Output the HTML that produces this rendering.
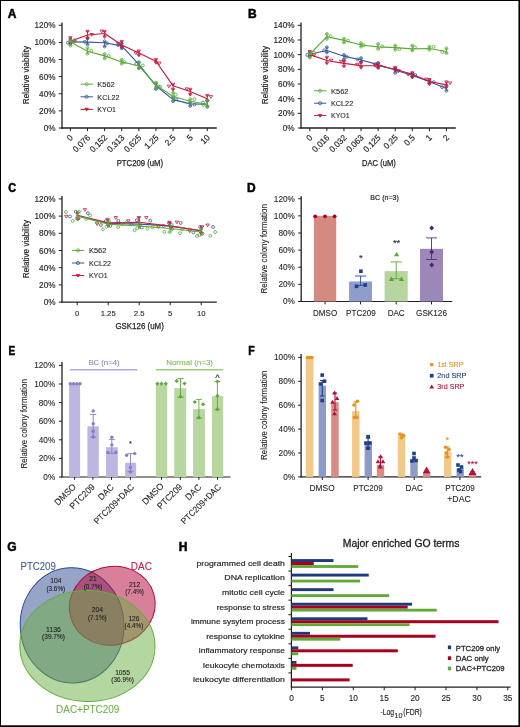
<!DOCTYPE html><html><head><meta charset="utf-8"><style>
html,body{margin:0;padding:0;background:#fff;}
svg{display:block;will-change:transform;}
text{font-family:"Liberation Sans",sans-serif;}
</style></head><body>
<svg width="520" height="727" viewBox="0 0 520 727">
<rect x="0" y="0" width="520" height="727" fill="#fff"/>
<line x1="62.00" y1="22.48" x2="62.00" y2="128.70" stroke="#231f20" stroke-width="1.3" /><line x1="58.80" y1="128.00" x2="62.00" y2="128.00" stroke="#231f20" stroke-width="1.0" /><text x="55.50" y="131.00" font-size="8.2" text-anchor="end" fill="#231f20" font-weight="normal"  stroke="#231f20" stroke-width="0.15">0%</text><line x1="58.80" y1="110.88" x2="62.00" y2="110.88" stroke="#231f20" stroke-width="1.0" /><text x="55.50" y="113.88" font-size="8.2" text-anchor="end" fill="#231f20" font-weight="normal"  stroke="#231f20" stroke-width="0.15">20%</text><line x1="58.80" y1="93.76" x2="62.00" y2="93.76" stroke="#231f20" stroke-width="1.0" /><text x="55.50" y="96.76" font-size="8.2" text-anchor="end" fill="#231f20" font-weight="normal"  stroke="#231f20" stroke-width="0.15">40%</text><line x1="58.80" y1="76.64" x2="62.00" y2="76.64" stroke="#231f20" stroke-width="1.0" /><text x="55.50" y="79.64" font-size="8.2" text-anchor="end" fill="#231f20" font-weight="normal"  stroke="#231f20" stroke-width="0.15">60%</text><line x1="58.80" y1="59.52" x2="62.00" y2="59.52" stroke="#231f20" stroke-width="1.0" /><text x="55.50" y="62.52" font-size="8.2" text-anchor="end" fill="#231f20" font-weight="normal"  stroke="#231f20" stroke-width="0.15">80%</text><line x1="58.80" y1="42.40" x2="62.00" y2="42.40" stroke="#231f20" stroke-width="1.0" /><text x="55.50" y="45.40" font-size="8.2" text-anchor="end" fill="#231f20" font-weight="normal"  stroke="#231f20" stroke-width="0.15">100%</text><line x1="58.80" y1="25.28" x2="62.00" y2="25.28" stroke="#231f20" stroke-width="1.0" /><text x="55.50" y="28.28" font-size="8.2" text-anchor="end" fill="#231f20" font-weight="normal"  stroke="#231f20" stroke-width="0.15">120%</text><text transform="translate(28.80,75.00) rotate(-90)" font-size="8.8" text-anchor="middle" fill="#231f20" font-weight="normal" textLength="58.30" lengthAdjust="spacingAndGlyphs"  stroke="#231f20" stroke-width="0.2">Relative viability</text><line x1="61.40" y1="128.00" x2="216.80" y2="128.00" stroke="#231f20" stroke-width="1.3" /><line x1="70.40" y1="128.00" x2="70.40" y2="131.20" stroke="#231f20" stroke-width="1.0" /><line x1="87.51" y1="128.00" x2="87.51" y2="131.20" stroke="#231f20" stroke-width="1.0" /><line x1="104.62" y1="128.00" x2="104.62" y2="131.20" stroke="#231f20" stroke-width="1.0" /><line x1="121.73" y1="128.00" x2="121.73" y2="131.20" stroke="#231f20" stroke-width="1.0" /><line x1="138.84" y1="128.00" x2="138.84" y2="131.20" stroke="#231f20" stroke-width="1.0" /><line x1="155.95" y1="128.00" x2="155.95" y2="131.20" stroke="#231f20" stroke-width="1.0" /><line x1="173.06" y1="128.00" x2="173.06" y2="131.20" stroke="#231f20" stroke-width="1.0" /><line x1="190.17" y1="128.00" x2="190.17" y2="131.20" stroke="#231f20" stroke-width="1.0" /><line x1="207.28" y1="128.00" x2="207.28" y2="131.20" stroke="#231f20" stroke-width="1.0" /><text transform="translate(73.60,138.20) rotate(-45)" font-size="8.6" text-anchor="end" fill="#231f20" font-weight="normal" textLength="4.57" lengthAdjust="spacingAndGlyphs"  stroke="#231f20" stroke-width="0.18">0</text><text transform="translate(90.71,138.20) rotate(-45)" font-size="8.6" text-anchor="end" fill="#231f20" font-weight="normal" textLength="20.56" lengthAdjust="spacingAndGlyphs"  stroke="#231f20" stroke-width="0.18">0.076</text><text transform="translate(107.82,138.20) rotate(-45)" font-size="8.6" text-anchor="end" fill="#231f20" font-weight="normal" textLength="20.56" lengthAdjust="spacingAndGlyphs"  stroke="#231f20" stroke-width="0.18">0.152</text><text transform="translate(124.93,138.20) rotate(-45)" font-size="8.6" text-anchor="end" fill="#231f20" font-weight="normal" textLength="20.56" lengthAdjust="spacingAndGlyphs"  stroke="#231f20" stroke-width="0.18">0.313</text><text transform="translate(142.04,138.20) rotate(-45)" font-size="8.6" text-anchor="end" fill="#231f20" font-weight="normal" textLength="20.56" lengthAdjust="spacingAndGlyphs"  stroke="#231f20" stroke-width="0.18">0.625</text><text transform="translate(159.15,138.20) rotate(-45)" font-size="8.6" text-anchor="end" fill="#231f20" font-weight="normal" textLength="15.99" lengthAdjust="spacingAndGlyphs"  stroke="#231f20" stroke-width="0.18">1.25</text><text transform="translate(176.26,138.20) rotate(-45)" font-size="8.6" text-anchor="end" fill="#231f20" font-weight="normal" textLength="11.42" lengthAdjust="spacingAndGlyphs"  stroke="#231f20" stroke-width="0.18">2.5</text><text transform="translate(193.37,138.20) rotate(-45)" font-size="8.6" text-anchor="end" fill="#231f20" font-weight="normal" textLength="4.57" lengthAdjust="spacingAndGlyphs"  stroke="#231f20" stroke-width="0.18">5</text><text transform="translate(210.48,138.20) rotate(-45)" font-size="8.6" text-anchor="end" fill="#231f20" font-weight="normal" textLength="9.14" lengthAdjust="spacingAndGlyphs"  stroke="#231f20" stroke-width="0.18">10</text><polyline points="70.40,41.89 87.51,42.14 104.62,42.74 121.73,45.82 138.84,64.40 155.95,85.80 173.06,99.58 190.17,103.86 207.28,104.20" fill="none" stroke="#35599c" stroke-width="1.15" stroke-linejoin="round"/><line x1="70.40" y1="39.48" x2="70.40" y2="43.68" stroke="#35599c" stroke-width="0.9" /><line x1="69.20" y1="39.48" x2="71.60" y2="39.48" stroke="#35599c" stroke-width="0.9" /><line x1="69.20" y1="43.68" x2="71.60" y2="43.68" stroke="#35599c" stroke-width="0.9" /><circle cx="70.40" cy="39.48" r="1.45" fill="none" stroke="#35599c" stroke-width="0.8"/><circle cx="70.40" cy="43.68" r="1.45" fill="none" stroke="#35599c" stroke-width="0.8"/><circle cx="67.88" cy="42.69" r="1.45" fill="none" stroke="#35599c" stroke-width="0.8"/><line x1="87.51" y1="38.37" x2="87.51" y2="44.39" stroke="#35599c" stroke-width="0.9" /><line x1="86.31" y1="38.37" x2="88.71" y2="38.37" stroke="#35599c" stroke-width="0.9" /><line x1="86.31" y1="44.39" x2="88.71" y2="44.39" stroke="#35599c" stroke-width="0.9" /><circle cx="87.51" cy="38.37" r="1.45" fill="none" stroke="#35599c" stroke-width="0.8"/><circle cx="87.51" cy="44.39" r="1.45" fill="none" stroke="#35599c" stroke-width="0.8"/><circle cx="84.85" cy="41.82" r="1.45" fill="none" stroke="#35599c" stroke-width="0.8"/><line x1="104.62" y1="41.35" x2="104.62" y2="46.46" stroke="#35599c" stroke-width="0.9" /><line x1="103.42" y1="41.35" x2="105.82" y2="41.35" stroke="#35599c" stroke-width="0.9" /><line x1="103.42" y1="46.46" x2="105.82" y2="46.46" stroke="#35599c" stroke-width="0.9" /><circle cx="104.62" cy="41.35" r="1.45" fill="none" stroke="#35599c" stroke-width="0.8"/><circle cx="104.62" cy="46.46" r="1.45" fill="none" stroke="#35599c" stroke-width="0.8"/><circle cx="107.14" cy="43.47" r="1.45" fill="none" stroke="#35599c" stroke-width="0.8"/><line x1="121.73" y1="43.62" x2="121.73" y2="48.32" stroke="#35599c" stroke-width="0.9" /><line x1="120.53" y1="43.62" x2="122.93" y2="43.62" stroke="#35599c" stroke-width="0.9" /><line x1="120.53" y1="48.32" x2="122.93" y2="48.32" stroke="#35599c" stroke-width="0.9" /><circle cx="121.73" cy="43.62" r="1.45" fill="none" stroke="#35599c" stroke-width="0.8"/><circle cx="121.73" cy="48.32" r="1.45" fill="none" stroke="#35599c" stroke-width="0.8"/><circle cx="118.07" cy="45.02" r="1.45" fill="none" stroke="#35599c" stroke-width="0.8"/><line x1="138.84" y1="62.32" x2="138.84" y2="67.99" stroke="#35599c" stroke-width="0.9" /><line x1="137.64" y1="62.32" x2="140.04" y2="62.32" stroke="#35599c" stroke-width="0.9" /><line x1="137.64" y1="67.99" x2="140.04" y2="67.99" stroke="#35599c" stroke-width="0.9" /><circle cx="138.84" cy="62.32" r="1.45" fill="none" stroke="#35599c" stroke-width="0.8"/><circle cx="138.84" cy="67.99" r="1.45" fill="none" stroke="#35599c" stroke-width="0.8"/><circle cx="136.32" cy="63.83" r="1.45" fill="none" stroke="#35599c" stroke-width="0.8"/><line x1="155.95" y1="83.58" x2="155.95" y2="89.00" stroke="#35599c" stroke-width="0.9" /><line x1="154.75" y1="83.58" x2="157.15" y2="83.58" stroke="#35599c" stroke-width="0.9" /><line x1="154.75" y1="89.00" x2="157.15" y2="89.00" stroke="#35599c" stroke-width="0.9" /><circle cx="155.95" cy="83.58" r="1.45" fill="none" stroke="#35599c" stroke-width="0.8"/><circle cx="155.95" cy="89.00" r="1.45" fill="none" stroke="#35599c" stroke-width="0.8"/><circle cx="158.50" cy="86.55" r="1.45" fill="none" stroke="#35599c" stroke-width="0.8"/><line x1="173.06" y1="97.23" x2="173.06" y2="101.15" stroke="#35599c" stroke-width="0.9" /><line x1="171.86" y1="97.23" x2="174.26" y2="97.23" stroke="#35599c" stroke-width="0.9" /><line x1="171.86" y1="101.15" x2="174.26" y2="101.15" stroke="#35599c" stroke-width="0.9" /><circle cx="173.06" cy="97.23" r="1.45" fill="none" stroke="#35599c" stroke-width="0.8"/><circle cx="173.06" cy="101.15" r="1.45" fill="none" stroke="#35599c" stroke-width="0.8"/><circle cx="175.98" cy="99.09" r="1.45" fill="none" stroke="#35599c" stroke-width="0.8"/><line x1="190.17" y1="102.42" x2="190.17" y2="105.93" stroke="#35599c" stroke-width="0.9" /><line x1="188.97" y1="102.42" x2="191.37" y2="102.42" stroke="#35599c" stroke-width="0.9" /><line x1="188.97" y1="105.93" x2="191.37" y2="105.93" stroke="#35599c" stroke-width="0.9" /><circle cx="190.17" cy="102.42" r="1.45" fill="none" stroke="#35599c" stroke-width="0.8"/><circle cx="190.17" cy="105.93" r="1.45" fill="none" stroke="#35599c" stroke-width="0.8"/><circle cx="194.52" cy="104.58" r="1.45" fill="none" stroke="#35599c" stroke-width="0.8"/><line x1="207.28" y1="100.37" x2="207.28" y2="106.78" stroke="#35599c" stroke-width="0.9" /><line x1="206.08" y1="100.37" x2="208.48" y2="100.37" stroke="#35599c" stroke-width="0.9" /><line x1="206.08" y1="106.78" x2="208.48" y2="106.78" stroke="#35599c" stroke-width="0.9" /><circle cx="207.28" cy="100.37" r="1.45" fill="none" stroke="#35599c" stroke-width="0.8"/><circle cx="207.28" cy="106.78" r="1.45" fill="none" stroke="#35599c" stroke-width="0.8"/><circle cx="202.95" cy="102.59" r="1.45" fill="none" stroke="#35599c" stroke-width="0.8"/><polyline points="70.40,41.20 87.51,35.04 104.62,33.50 121.73,44.97 138.84,53.10 155.95,61.23 173.06,85.80 190.17,91.53 207.28,98.81" fill="none" stroke="#c8173f" stroke-width="1.15" stroke-linejoin="round"/><line x1="70.40" y1="37.90" x2="70.40" y2="43.78" stroke="#c8173f" stroke-width="0.9" /><line x1="69.20" y1="37.90" x2="71.60" y2="37.90" stroke="#c8173f" stroke-width="0.9" /><line x1="69.20" y1="43.78" x2="71.60" y2="43.78" stroke="#c8173f" stroke-width="0.9" /><path d="M68.70,36.71L72.10,36.71L70.40,39.43Z" fill="none" stroke="#c8173f" stroke-width="0.8"/><path d="M68.70,42.59L72.10,42.59L70.40,45.31Z" fill="none" stroke="#c8173f" stroke-width="0.8"/><path d="M72.87,40.42L76.27,40.42L74.57,43.14Z" fill="none" stroke="#c8173f" stroke-width="0.8"/><line x1="87.51" y1="31.51" x2="87.51" y2="38.23" stroke="#c8173f" stroke-width="0.9" /><line x1="86.31" y1="31.51" x2="88.71" y2="31.51" stroke="#c8173f" stroke-width="0.9" /><line x1="86.31" y1="38.23" x2="88.71" y2="38.23" stroke="#c8173f" stroke-width="0.9" /><path d="M85.81,30.32L89.21,30.32L87.51,33.04Z" fill="none" stroke="#c8173f" stroke-width="0.8"/><path d="M85.81,37.04L89.21,37.04L87.51,39.76Z" fill="none" stroke="#c8173f" stroke-width="0.8"/><path d="M90.03,33.52L93.43,33.52L91.73,36.24Z" fill="none" stroke="#c8173f" stroke-width="0.8"/><line x1="104.62" y1="31.50" x2="104.62" y2="36.92" stroke="#c8173f" stroke-width="0.9" /><line x1="103.42" y1="31.50" x2="105.82" y2="31.50" stroke="#c8173f" stroke-width="0.9" /><line x1="103.42" y1="36.92" x2="105.82" y2="36.92" stroke="#c8173f" stroke-width="0.9" /><path d="M102.92,30.31L106.32,30.31L104.62,33.03Z" fill="none" stroke="#c8173f" stroke-width="0.8"/><path d="M102.92,35.73L106.32,35.73L104.62,38.45Z" fill="none" stroke="#c8173f" stroke-width="0.8"/><path d="M100.05,30.08L103.45,30.08L101.75,32.80Z" fill="none" stroke="#c8173f" stroke-width="0.8"/><line x1="121.73" y1="41.60" x2="121.73" y2="47.35" stroke="#c8173f" stroke-width="0.9" /><line x1="120.53" y1="41.60" x2="122.93" y2="41.60" stroke="#c8173f" stroke-width="0.9" /><line x1="120.53" y1="47.35" x2="122.93" y2="47.35" stroke="#c8173f" stroke-width="0.9" /><path d="M120.03,40.41L123.43,40.41L121.73,43.13Z" fill="none" stroke="#c8173f" stroke-width="0.8"/><path d="M120.03,46.16L123.43,46.16L121.73,48.88Z" fill="none" stroke="#c8173f" stroke-width="0.8"/><path d="M116.43,42.42L119.83,42.42L118.13,45.14Z" fill="none" stroke="#c8173f" stroke-width="0.8"/><line x1="138.84" y1="51.16" x2="138.84" y2="55.38" stroke="#c8173f" stroke-width="0.9" /><line x1="137.64" y1="51.16" x2="140.04" y2="51.16" stroke="#c8173f" stroke-width="0.9" /><line x1="137.64" y1="55.38" x2="140.04" y2="55.38" stroke="#c8173f" stroke-width="0.9" /><path d="M137.14,49.97L140.54,49.97L138.84,52.69Z" fill="none" stroke="#c8173f" stroke-width="0.8"/><path d="M137.14,54.19L140.54,54.19L138.84,56.91Z" fill="none" stroke="#c8173f" stroke-width="0.8"/><path d="M134.17,51.89L137.57,51.89L135.87,54.61Z" fill="none" stroke="#c8173f" stroke-width="0.8"/><line x1="155.95" y1="59.63" x2="155.95" y2="62.74" stroke="#c8173f" stroke-width="0.9" /><line x1="154.75" y1="59.63" x2="157.15" y2="59.63" stroke="#c8173f" stroke-width="0.9" /><line x1="154.75" y1="62.74" x2="157.15" y2="62.74" stroke="#c8173f" stroke-width="0.9" /><path d="M154.25,58.44L157.65,58.44L155.95,61.16Z" fill="none" stroke="#c8173f" stroke-width="0.8"/><path d="M154.25,61.55L157.65,61.55L155.95,64.27Z" fill="none" stroke="#c8173f" stroke-width="0.8"/><path d="M157.72,62.04L161.12,62.04L159.42,64.76Z" fill="none" stroke="#c8173f" stroke-width="0.8"/><line x1="173.06" y1="84.41" x2="173.06" y2="89.50" stroke="#c8173f" stroke-width="0.9" /><line x1="171.86" y1="84.41" x2="174.26" y2="84.41" stroke="#c8173f" stroke-width="0.9" /><line x1="171.86" y1="89.50" x2="174.26" y2="89.50" stroke="#c8173f" stroke-width="0.9" /><path d="M171.36,83.22L174.76,83.22L173.06,85.94Z" fill="none" stroke="#c8173f" stroke-width="0.8"/><path d="M171.36,88.31L174.76,88.31L173.06,91.03Z" fill="none" stroke="#c8173f" stroke-width="0.8"/><path d="M167.21,85.11L170.61,85.11L168.91,87.83Z" fill="none" stroke="#c8173f" stroke-width="0.8"/><line x1="190.17" y1="89.53" x2="190.17" y2="94.63" stroke="#c8173f" stroke-width="0.9" /><line x1="188.97" y1="89.53" x2="191.37" y2="89.53" stroke="#c8173f" stroke-width="0.9" /><line x1="188.97" y1="94.63" x2="191.37" y2="94.63" stroke="#c8173f" stroke-width="0.9" /><path d="M188.47,88.34L191.87,88.34L190.17,91.06Z" fill="none" stroke="#c8173f" stroke-width="0.8"/><path d="M188.47,93.44L191.87,93.44L190.17,96.16Z" fill="none" stroke="#c8173f" stroke-width="0.8"/><path d="M185.06,87.83L188.46,87.83L186.76,90.55Z" fill="none" stroke="#c8173f" stroke-width="0.8"/><line x1="207.28" y1="95.59" x2="207.28" y2="101.54" stroke="#c8173f" stroke-width="0.9" /><line x1="206.08" y1="95.59" x2="208.48" y2="95.59" stroke="#c8173f" stroke-width="0.9" /><line x1="206.08" y1="101.54" x2="208.48" y2="101.54" stroke="#c8173f" stroke-width="0.9" /><path d="M205.58,94.40L208.98,94.40L207.28,97.12Z" fill="none" stroke="#c8173f" stroke-width="0.8"/><path d="M205.58,100.35L208.98,100.35L207.28,103.07Z" fill="none" stroke="#c8173f" stroke-width="0.8"/><path d="M209.24,95.59L212.64,95.59L210.94,98.31Z" fill="none" stroke="#c8173f" stroke-width="0.8"/><polyline points="70.40,41.89 87.51,51.22 104.62,55.84 121.73,61.92 138.84,65.94 155.95,85.03 173.06,96.50 190.17,101.21 207.28,104.20" fill="none" stroke="#5bad37" stroke-width="1.15" stroke-linejoin="round"/><line x1="70.40" y1="40.56" x2="70.40" y2="45.72" stroke="#5bad37" stroke-width="0.9" /><line x1="69.20" y1="40.56" x2="71.60" y2="40.56" stroke="#5bad37" stroke-width="0.9" /><line x1="69.20" y1="45.72" x2="71.60" y2="45.72" stroke="#5bad37" stroke-width="0.9" /><circle cx="70.40" cy="40.56" r="1.45" fill="none" stroke="#5bad37" stroke-width="0.8"/><circle cx="70.40" cy="45.72" r="1.45" fill="none" stroke="#5bad37" stroke-width="0.8"/><circle cx="74.74" cy="40.10" r="1.45" fill="none" stroke="#5bad37" stroke-width="0.8"/><line x1="87.51" y1="48.04" x2="87.51" y2="53.66" stroke="#5bad37" stroke-width="0.9" /><line x1="86.31" y1="48.04" x2="88.71" y2="48.04" stroke="#5bad37" stroke-width="0.9" /><line x1="86.31" y1="53.66" x2="88.71" y2="53.66" stroke="#5bad37" stroke-width="0.9" /><circle cx="87.51" cy="48.04" r="1.45" fill="none" stroke="#5bad37" stroke-width="0.8"/><circle cx="87.51" cy="53.66" r="1.45" fill="none" stroke="#5bad37" stroke-width="0.8"/><circle cx="91.24" cy="50.77" r="1.45" fill="none" stroke="#5bad37" stroke-width="0.8"/><line x1="104.62" y1="53.99" x2="104.62" y2="58.35" stroke="#5bad37" stroke-width="0.9" /><line x1="103.42" y1="53.99" x2="105.82" y2="53.99" stroke="#5bad37" stroke-width="0.9" /><line x1="103.42" y1="58.35" x2="105.82" y2="58.35" stroke="#5bad37" stroke-width="0.9" /><circle cx="104.62" cy="53.99" r="1.45" fill="none" stroke="#5bad37" stroke-width="0.8"/><circle cx="104.62" cy="58.35" r="1.45" fill="none" stroke="#5bad37" stroke-width="0.8"/><circle cx="108.70" cy="56.02" r="1.45" fill="none" stroke="#5bad37" stroke-width="0.8"/><line x1="121.73" y1="59.75" x2="121.73" y2="63.70" stroke="#5bad37" stroke-width="0.9" /><line x1="120.53" y1="59.75" x2="122.93" y2="59.75" stroke="#5bad37" stroke-width="0.9" /><line x1="120.53" y1="63.70" x2="122.93" y2="63.70" stroke="#5bad37" stroke-width="0.9" /><circle cx="121.73" cy="59.75" r="1.45" fill="none" stroke="#5bad37" stroke-width="0.8"/><circle cx="121.73" cy="63.70" r="1.45" fill="none" stroke="#5bad37" stroke-width="0.8"/><circle cx="124.49" cy="62.12" r="1.45" fill="none" stroke="#5bad37" stroke-width="0.8"/><line x1="138.84" y1="62.54" x2="138.84" y2="68.13" stroke="#5bad37" stroke-width="0.9" /><line x1="137.64" y1="62.54" x2="140.04" y2="62.54" stroke="#5bad37" stroke-width="0.9" /><line x1="137.64" y1="68.13" x2="140.04" y2="68.13" stroke="#5bad37" stroke-width="0.9" /><circle cx="138.84" cy="62.54" r="1.45" fill="none" stroke="#5bad37" stroke-width="0.8"/><circle cx="138.84" cy="68.13" r="1.45" fill="none" stroke="#5bad37" stroke-width="0.8"/><circle cx="142.85" cy="65.42" r="1.45" fill="none" stroke="#5bad37" stroke-width="0.8"/><line x1="155.95" y1="82.58" x2="155.95" y2="87.44" stroke="#5bad37" stroke-width="0.9" /><line x1="154.75" y1="82.58" x2="157.15" y2="82.58" stroke="#5bad37" stroke-width="0.9" /><line x1="154.75" y1="87.44" x2="157.15" y2="87.44" stroke="#5bad37" stroke-width="0.9" /><circle cx="155.95" cy="82.58" r="1.45" fill="none" stroke="#5bad37" stroke-width="0.8"/><circle cx="155.95" cy="87.44" r="1.45" fill="none" stroke="#5bad37" stroke-width="0.8"/><circle cx="160.08" cy="86.67" r="1.45" fill="none" stroke="#5bad37" stroke-width="0.8"/><line x1="173.06" y1="92.66" x2="173.06" y2="98.45" stroke="#5bad37" stroke-width="0.9" /><line x1="171.86" y1="92.66" x2="174.26" y2="92.66" stroke="#5bad37" stroke-width="0.9" /><line x1="171.86" y1="98.45" x2="174.26" y2="98.45" stroke="#5bad37" stroke-width="0.9" /><circle cx="173.06" cy="92.66" r="1.45" fill="none" stroke="#5bad37" stroke-width="0.8"/><circle cx="173.06" cy="98.45" r="1.45" fill="none" stroke="#5bad37" stroke-width="0.8"/><circle cx="175.68" cy="94.60" r="1.45" fill="none" stroke="#5bad37" stroke-width="0.8"/><line x1="190.17" y1="99.20" x2="190.17" y2="102.71" stroke="#5bad37" stroke-width="0.9" /><line x1="188.97" y1="99.20" x2="191.37" y2="99.20" stroke="#5bad37" stroke-width="0.9" /><line x1="188.97" y1="102.71" x2="191.37" y2="102.71" stroke="#5bad37" stroke-width="0.9" /><circle cx="190.17" cy="99.20" r="1.45" fill="none" stroke="#5bad37" stroke-width="0.8"/><circle cx="190.17" cy="102.71" r="1.45" fill="none" stroke="#5bad37" stroke-width="0.8"/><circle cx="194.39" cy="99.12" r="1.45" fill="none" stroke="#5bad37" stroke-width="0.8"/><line x1="207.28" y1="100.53" x2="207.28" y2="106.07" stroke="#5bad37" stroke-width="0.9" /><line x1="206.08" y1="100.53" x2="208.48" y2="100.53" stroke="#5bad37" stroke-width="0.9" /><line x1="206.08" y1="106.07" x2="208.48" y2="106.07" stroke="#5bad37" stroke-width="0.9" /><circle cx="207.28" cy="100.53" r="1.45" fill="none" stroke="#5bad37" stroke-width="0.8"/><circle cx="207.28" cy="106.07" r="1.45" fill="none" stroke="#5bad37" stroke-width="0.8"/><circle cx="203.18" cy="104.89" r="1.45" fill="none" stroke="#5bad37" stroke-width="0.8"/><line x1="80.50" y1="84.20" x2="92.90" y2="84.20" stroke="#5bad37" stroke-width="1.0" /><circle cx="86.60" cy="84.20" r="1.6" fill="none" stroke="#5bad37" stroke-width="0.8"/><text x="97.30" y="87.00" font-size="7.9" text-anchor="start" fill="#231f20" font-weight="normal" textLength="17.50" lengthAdjust="spacingAndGlyphs"  stroke="#231f20" stroke-width="0.1">K562</text><line x1="80.50" y1="96.80" x2="92.90" y2="96.80" stroke="#35599c" stroke-width="1.0" /><circle cx="86.60" cy="96.80" r="1.6" fill="none" stroke="#35599c" stroke-width="0.8"/><text x="97.30" y="99.60" font-size="7.9" text-anchor="start" fill="#231f20" font-weight="normal" textLength="22.20" lengthAdjust="spacingAndGlyphs"  stroke="#231f20" stroke-width="0.1">KCL22</text><line x1="80.50" y1="109.40" x2="92.90" y2="109.40" stroke="#c8173f" stroke-width="1.0" /><path d="M84.90,108.21L88.30,108.21L86.60,110.93Z" fill="#c8173f" stroke="#c8173f" stroke-width="0.8"/><text x="97.30" y="112.20" font-size="7.9" text-anchor="start" fill="#231f20" font-weight="normal" textLength="18.70" lengthAdjust="spacingAndGlyphs"  stroke="#231f20" stroke-width="0.1">KYO1</text><text x="139.90" y="165.60" font-size="8.4" text-anchor="middle" fill="#231f20" font-weight="normal" textLength="46.40" lengthAdjust="spacingAndGlyphs"  stroke="#231f20" stroke-width="0.25">PTC209 (uM)</text><line x1="301.00" y1="22.50" x2="301.00" y2="128.70" stroke="#231f20" stroke-width="1.3" /><line x1="297.80" y1="128.00" x2="301.00" y2="128.00" stroke="#231f20" stroke-width="1.0" /><text x="294.50" y="131.00" font-size="8.2" text-anchor="end" fill="#231f20" font-weight="normal"  stroke="#231f20" stroke-width="0.15">0%</text><line x1="297.80" y1="113.33" x2="301.00" y2="113.33" stroke="#231f20" stroke-width="1.0" /><text x="294.50" y="116.33" font-size="8.2" text-anchor="end" fill="#231f20" font-weight="normal"  stroke="#231f20" stroke-width="0.15">20%</text><line x1="297.80" y1="98.66" x2="301.00" y2="98.66" stroke="#231f20" stroke-width="1.0" /><text x="294.50" y="101.66" font-size="8.2" text-anchor="end" fill="#231f20" font-weight="normal"  stroke="#231f20" stroke-width="0.15">40%</text><line x1="297.80" y1="83.98" x2="301.00" y2="83.98" stroke="#231f20" stroke-width="1.0" /><text x="294.50" y="86.98" font-size="8.2" text-anchor="end" fill="#231f20" font-weight="normal"  stroke="#231f20" stroke-width="0.15">60%</text><line x1="297.80" y1="69.31" x2="301.00" y2="69.31" stroke="#231f20" stroke-width="1.0" /><text x="294.50" y="72.31" font-size="8.2" text-anchor="end" fill="#231f20" font-weight="normal"  stroke="#231f20" stroke-width="0.15">80%</text><line x1="297.80" y1="54.64" x2="301.00" y2="54.64" stroke="#231f20" stroke-width="1.0" /><text x="294.50" y="57.64" font-size="8.2" text-anchor="end" fill="#231f20" font-weight="normal"  stroke="#231f20" stroke-width="0.15">100%</text><line x1="297.80" y1="39.97" x2="301.00" y2="39.97" stroke="#231f20" stroke-width="1.0" /><text x="294.50" y="42.97" font-size="8.2" text-anchor="end" fill="#231f20" font-weight="normal"  stroke="#231f20" stroke-width="0.15">120%</text><line x1="297.80" y1="25.30" x2="301.00" y2="25.30" stroke="#231f20" stroke-width="1.0" /><text x="294.50" y="28.30" font-size="8.2" text-anchor="end" fill="#231f20" font-weight="normal"  stroke="#231f20" stroke-width="0.15">140%</text><text transform="translate(267.80,75.00) rotate(-90)" font-size="8.8" text-anchor="middle" fill="#231f20" font-weight="normal" textLength="58.30" lengthAdjust="spacingAndGlyphs"  stroke="#231f20" stroke-width="0.2">Relative viability</text><line x1="300.40" y1="128.00" x2="455.80" y2="128.00" stroke="#231f20" stroke-width="1.3" /><line x1="309.80" y1="128.00" x2="309.80" y2="131.20" stroke="#231f20" stroke-width="1.0" /><line x1="326.88" y1="128.00" x2="326.88" y2="131.20" stroke="#231f20" stroke-width="1.0" /><line x1="343.96" y1="128.00" x2="343.96" y2="131.20" stroke="#231f20" stroke-width="1.0" /><line x1="361.04" y1="128.00" x2="361.04" y2="131.20" stroke="#231f20" stroke-width="1.0" /><line x1="378.12" y1="128.00" x2="378.12" y2="131.20" stroke="#231f20" stroke-width="1.0" /><line x1="395.20" y1="128.00" x2="395.20" y2="131.20" stroke="#231f20" stroke-width="1.0" /><line x1="412.28" y1="128.00" x2="412.28" y2="131.20" stroke="#231f20" stroke-width="1.0" /><line x1="429.36" y1="128.00" x2="429.36" y2="131.20" stroke="#231f20" stroke-width="1.0" /><line x1="446.44" y1="128.00" x2="446.44" y2="131.20" stroke="#231f20" stroke-width="1.0" /><text transform="translate(313.00,138.20) rotate(-45)" font-size="8.6" text-anchor="end" fill="#231f20" font-weight="normal" textLength="4.57" lengthAdjust="spacingAndGlyphs"  stroke="#231f20" stroke-width="0.18">0</text><text transform="translate(330.08,138.20) rotate(-45)" font-size="8.6" text-anchor="end" fill="#231f20" font-weight="normal" textLength="20.56" lengthAdjust="spacingAndGlyphs"  stroke="#231f20" stroke-width="0.18">0.016</text><text transform="translate(347.16,138.20) rotate(-45)" font-size="8.6" text-anchor="end" fill="#231f20" font-weight="normal" textLength="20.56" lengthAdjust="spacingAndGlyphs"  stroke="#231f20" stroke-width="0.18">0.032</text><text transform="translate(364.24,138.20) rotate(-45)" font-size="8.6" text-anchor="end" fill="#231f20" font-weight="normal" textLength="20.56" lengthAdjust="spacingAndGlyphs"  stroke="#231f20" stroke-width="0.18">0.063</text><text transform="translate(381.32,138.20) rotate(-45)" font-size="8.6" text-anchor="end" fill="#231f20" font-weight="normal" textLength="20.56" lengthAdjust="spacingAndGlyphs"  stroke="#231f20" stroke-width="0.18">0.125</text><text transform="translate(398.40,138.20) rotate(-45)" font-size="8.6" text-anchor="end" fill="#231f20" font-weight="normal" textLength="15.99" lengthAdjust="spacingAndGlyphs"  stroke="#231f20" stroke-width="0.18">0.25</text><text transform="translate(415.48,138.20) rotate(-45)" font-size="8.6" text-anchor="end" fill="#231f20" font-weight="normal" textLength="11.42" lengthAdjust="spacingAndGlyphs"  stroke="#231f20" stroke-width="0.18">0.5</text><text transform="translate(432.56,138.20) rotate(-45)" font-size="8.6" text-anchor="end" fill="#231f20" font-weight="normal" textLength="4.57" lengthAdjust="spacingAndGlyphs"  stroke="#231f20" stroke-width="0.18">1</text><text transform="translate(449.64,138.20) rotate(-45)" font-size="8.6" text-anchor="end" fill="#231f20" font-weight="normal" textLength="4.57" lengthAdjust="spacingAndGlyphs"  stroke="#231f20" stroke-width="0.18">2</text><polyline points="309.80,54.27 326.88,50.53 343.96,56.18 361.04,60.00 378.12,64.62 395.20,70.05 412.28,75.40 429.36,81.49 446.44,88.53" fill="none" stroke="#35599c" stroke-width="1.15" stroke-linejoin="round"/><line x1="309.80" y1="52.21" x2="309.80" y2="55.81" stroke="#35599c" stroke-width="0.9" /><line x1="308.60" y1="52.21" x2="311.00" y2="52.21" stroke="#35599c" stroke-width="0.9" /><line x1="308.60" y1="55.81" x2="311.00" y2="55.81" stroke="#35599c" stroke-width="0.9" /><circle cx="309.80" cy="52.21" r="1.45" fill="none" stroke="#35599c" stroke-width="0.8"/><circle cx="309.80" cy="55.81" r="1.45" fill="none" stroke="#35599c" stroke-width="0.8"/><circle cx="307.28" cy="54.96" r="1.45" fill="none" stroke="#35599c" stroke-width="0.8"/><line x1="326.88" y1="47.30" x2="326.88" y2="52.46" stroke="#35599c" stroke-width="0.9" /><line x1="325.68" y1="47.30" x2="328.08" y2="47.30" stroke="#35599c" stroke-width="0.9" /><line x1="325.68" y1="52.46" x2="328.08" y2="52.46" stroke="#35599c" stroke-width="0.9" /><circle cx="326.88" cy="47.30" r="1.45" fill="none" stroke="#35599c" stroke-width="0.8"/><circle cx="326.88" cy="52.46" r="1.45" fill="none" stroke="#35599c" stroke-width="0.8"/><circle cx="324.22" cy="50.25" r="1.45" fill="none" stroke="#35599c" stroke-width="0.8"/><line x1="343.96" y1="54.98" x2="343.96" y2="59.37" stroke="#35599c" stroke-width="0.9" /><line x1="342.76" y1="54.98" x2="345.16" y2="54.98" stroke="#35599c" stroke-width="0.9" /><line x1="342.76" y1="59.37" x2="345.16" y2="59.37" stroke="#35599c" stroke-width="0.9" /><circle cx="343.96" cy="54.98" r="1.45" fill="none" stroke="#35599c" stroke-width="0.8"/><circle cx="343.96" cy="59.37" r="1.45" fill="none" stroke="#35599c" stroke-width="0.8"/><circle cx="346.48" cy="56.80" r="1.45" fill="none" stroke="#35599c" stroke-width="0.8"/><line x1="361.04" y1="58.11" x2="361.04" y2="62.13" stroke="#35599c" stroke-width="0.9" /><line x1="359.84" y1="58.11" x2="362.24" y2="58.11" stroke="#35599c" stroke-width="0.9" /><line x1="359.84" y1="62.13" x2="362.24" y2="62.13" stroke="#35599c" stroke-width="0.9" /><circle cx="361.04" cy="58.11" r="1.45" fill="none" stroke="#35599c" stroke-width="0.8"/><circle cx="361.04" cy="62.13" r="1.45" fill="none" stroke="#35599c" stroke-width="0.8"/><circle cx="357.38" cy="59.31" r="1.45" fill="none" stroke="#35599c" stroke-width="0.8"/><line x1="378.12" y1="62.84" x2="378.12" y2="67.70" stroke="#35599c" stroke-width="0.9" /><line x1="376.92" y1="62.84" x2="379.32" y2="62.84" stroke="#35599c" stroke-width="0.9" /><line x1="376.92" y1="67.70" x2="379.32" y2="67.70" stroke="#35599c" stroke-width="0.9" /><circle cx="378.12" cy="62.84" r="1.45" fill="none" stroke="#35599c" stroke-width="0.8"/><circle cx="378.12" cy="67.70" r="1.45" fill="none" stroke="#35599c" stroke-width="0.8"/><circle cx="375.60" cy="64.13" r="1.45" fill="none" stroke="#35599c" stroke-width="0.8"/><line x1="395.20" y1="68.14" x2="395.20" y2="72.79" stroke="#35599c" stroke-width="0.9" /><line x1="394.00" y1="68.14" x2="396.40" y2="68.14" stroke="#35599c" stroke-width="0.9" /><line x1="394.00" y1="72.79" x2="396.40" y2="72.79" stroke="#35599c" stroke-width="0.9" /><circle cx="395.20" cy="68.14" r="1.45" fill="none" stroke="#35599c" stroke-width="0.8"/><circle cx="395.20" cy="72.79" r="1.45" fill="none" stroke="#35599c" stroke-width="0.8"/><circle cx="397.75" cy="70.69" r="1.45" fill="none" stroke="#35599c" stroke-width="0.8"/><line x1="412.28" y1="73.38" x2="412.28" y2="76.75" stroke="#35599c" stroke-width="0.9" /><line x1="411.08" y1="73.38" x2="413.48" y2="73.38" stroke="#35599c" stroke-width="0.9" /><line x1="411.08" y1="76.75" x2="413.48" y2="76.75" stroke="#35599c" stroke-width="0.9" /><circle cx="412.28" cy="73.38" r="1.45" fill="none" stroke="#35599c" stroke-width="0.8"/><circle cx="412.28" cy="76.75" r="1.45" fill="none" stroke="#35599c" stroke-width="0.8"/><circle cx="415.20" cy="74.98" r="1.45" fill="none" stroke="#35599c" stroke-width="0.8"/><line x1="429.36" y1="80.26" x2="429.36" y2="83.26" stroke="#35599c" stroke-width="0.9" /><line x1="428.16" y1="80.26" x2="430.56" y2="80.26" stroke="#35599c" stroke-width="0.9" /><line x1="428.16" y1="83.26" x2="430.56" y2="83.26" stroke="#35599c" stroke-width="0.9" /><circle cx="429.36" cy="80.26" r="1.45" fill="none" stroke="#35599c" stroke-width="0.8"/><circle cx="429.36" cy="83.26" r="1.45" fill="none" stroke="#35599c" stroke-width="0.8"/><circle cx="433.71" cy="82.11" r="1.45" fill="none" stroke="#35599c" stroke-width="0.8"/><line x1="446.44" y1="85.24" x2="446.44" y2="90.74" stroke="#35599c" stroke-width="0.9" /><line x1="445.24" y1="85.24" x2="447.64" y2="85.24" stroke="#35599c" stroke-width="0.9" /><line x1="445.24" y1="90.74" x2="447.64" y2="90.74" stroke="#35599c" stroke-width="0.9" /><circle cx="446.44" cy="85.24" r="1.45" fill="none" stroke="#35599c" stroke-width="0.8"/><circle cx="446.44" cy="90.74" r="1.45" fill="none" stroke="#35599c" stroke-width="0.8"/><circle cx="442.11" cy="87.15" r="1.45" fill="none" stroke="#35599c" stroke-width="0.8"/><polyline points="309.80,54.64 326.88,60.51 343.96,63.44 361.04,65.64 378.12,65.79 395.20,69.24 412.28,74.23 429.36,81.49 446.44,84.86" fill="none" stroke="#c8173f" stroke-width="1.15" stroke-linejoin="round"/><line x1="309.80" y1="51.81" x2="309.80" y2="56.85" stroke="#c8173f" stroke-width="0.9" /><line x1="308.60" y1="51.81" x2="311.00" y2="51.81" stroke="#c8173f" stroke-width="0.9" /><line x1="308.60" y1="56.85" x2="311.00" y2="56.85" stroke="#c8173f" stroke-width="0.9" /><path d="M308.10,50.62L311.50,50.62L309.80,53.34Z" fill="none" stroke="#c8173f" stroke-width="0.8"/><path d="M308.10,55.66L311.50,55.66L309.80,58.38Z" fill="none" stroke="#c8173f" stroke-width="0.8"/><path d="M312.27,53.80L315.67,53.80L313.97,56.52Z" fill="none" stroke="#c8173f" stroke-width="0.8"/><line x1="326.88" y1="57.48" x2="326.88" y2="63.24" stroke="#c8173f" stroke-width="0.9" /><line x1="325.68" y1="57.48" x2="328.08" y2="57.48" stroke="#c8173f" stroke-width="0.9" /><line x1="325.68" y1="63.24" x2="328.08" y2="63.24" stroke="#c8173f" stroke-width="0.9" /><path d="M325.18,56.29L328.58,56.29L326.88,59.01Z" fill="none" stroke="#c8173f" stroke-width="0.8"/><path d="M325.18,62.05L328.58,62.05L326.88,64.77Z" fill="none" stroke="#c8173f" stroke-width="0.8"/><path d="M329.40,59.04L332.80,59.04L331.10,61.76Z" fill="none" stroke="#c8173f" stroke-width="0.8"/><line x1="343.96" y1="61.73" x2="343.96" y2="66.38" stroke="#c8173f" stroke-width="0.9" /><line x1="342.76" y1="61.73" x2="345.16" y2="61.73" stroke="#c8173f" stroke-width="0.9" /><line x1="342.76" y1="66.38" x2="345.16" y2="66.38" stroke="#c8173f" stroke-width="0.9" /><path d="M342.26,60.54L345.66,60.54L343.96,63.26Z" fill="none" stroke="#c8173f" stroke-width="0.8"/><path d="M342.26,65.19L345.66,65.19L343.96,67.91Z" fill="none" stroke="#c8173f" stroke-width="0.8"/><path d="M339.39,60.35L342.79,60.35L341.09,63.07Z" fill="none" stroke="#c8173f" stroke-width="0.8"/><line x1="361.04" y1="62.76" x2="361.04" y2="67.69" stroke="#c8173f" stroke-width="0.9" /><line x1="359.84" y1="62.76" x2="362.24" y2="62.76" stroke="#c8173f" stroke-width="0.9" /><line x1="359.84" y1="67.69" x2="362.24" y2="67.69" stroke="#c8173f" stroke-width="0.9" /><path d="M359.34,61.57L362.74,61.57L361.04,64.29Z" fill="none" stroke="#c8173f" stroke-width="0.8"/><path d="M359.34,66.50L362.74,66.50L361.04,69.22Z" fill="none" stroke="#c8173f" stroke-width="0.8"/><path d="M355.74,63.29L359.14,63.29L357.44,66.01Z" fill="none" stroke="#c8173f" stroke-width="0.8"/><line x1="378.12" y1="64.13" x2="378.12" y2="67.74" stroke="#c8173f" stroke-width="0.9" /><line x1="376.92" y1="64.13" x2="379.32" y2="64.13" stroke="#c8173f" stroke-width="0.9" /><line x1="376.92" y1="67.74" x2="379.32" y2="67.74" stroke="#c8173f" stroke-width="0.9" /><path d="M376.42,62.94L379.82,62.94L378.12,65.66Z" fill="none" stroke="#c8173f" stroke-width="0.8"/><path d="M376.42,66.55L379.82,66.55L378.12,69.27Z" fill="none" stroke="#c8173f" stroke-width="0.8"/><path d="M373.45,64.59L376.85,64.59L375.15,67.31Z" fill="none" stroke="#c8173f" stroke-width="0.8"/><line x1="395.20" y1="67.87" x2="395.20" y2="70.53" stroke="#c8173f" stroke-width="0.9" /><line x1="394.00" y1="67.87" x2="396.40" y2="67.87" stroke="#c8173f" stroke-width="0.9" /><line x1="394.00" y1="70.53" x2="396.40" y2="70.53" stroke="#c8173f" stroke-width="0.9" /><path d="M393.50,66.68L396.90,66.68L395.20,69.40Z" fill="none" stroke="#c8173f" stroke-width="0.8"/><path d="M393.50,69.34L396.90,69.34L395.20,72.06Z" fill="none" stroke="#c8173f" stroke-width="0.8"/><path d="M396.97,69.76L400.37,69.76L398.67,72.48Z" fill="none" stroke="#c8173f" stroke-width="0.8"/><line x1="412.28" y1="73.04" x2="412.28" y2="77.40" stroke="#c8173f" stroke-width="0.9" /><line x1="411.08" y1="73.04" x2="413.48" y2="73.04" stroke="#c8173f" stroke-width="0.9" /><line x1="411.08" y1="77.40" x2="413.48" y2="77.40" stroke="#c8173f" stroke-width="0.9" /><path d="M410.58,71.85L413.98,71.85L412.28,74.57Z" fill="none" stroke="#c8173f" stroke-width="0.8"/><path d="M410.58,76.21L413.98,76.21L412.28,78.93Z" fill="none" stroke="#c8173f" stroke-width="0.8"/><path d="M406.43,73.47L409.83,73.47L408.13,76.19Z" fill="none" stroke="#c8173f" stroke-width="0.8"/><line x1="429.36" y1="79.77" x2="429.36" y2="84.14" stroke="#c8173f" stroke-width="0.9" /><line x1="428.16" y1="79.77" x2="430.56" y2="79.77" stroke="#c8173f" stroke-width="0.9" /><line x1="428.16" y1="84.14" x2="430.56" y2="84.14" stroke="#c8173f" stroke-width="0.9" /><path d="M427.66,78.58L431.06,78.58L429.36,81.30Z" fill="none" stroke="#c8173f" stroke-width="0.8"/><path d="M427.66,82.95L431.06,82.95L429.36,85.67Z" fill="none" stroke="#c8173f" stroke-width="0.8"/><path d="M424.25,78.14L427.65,78.14L425.95,80.86Z" fill="none" stroke="#c8173f" stroke-width="0.8"/><line x1="446.44" y1="82.11" x2="446.44" y2="87.20" stroke="#c8173f" stroke-width="0.9" /><line x1="445.24" y1="82.11" x2="447.64" y2="82.11" stroke="#c8173f" stroke-width="0.9" /><line x1="445.24" y1="87.20" x2="447.64" y2="87.20" stroke="#c8173f" stroke-width="0.9" /><path d="M444.74,80.92L448.14,80.92L446.44,83.64Z" fill="none" stroke="#c8173f" stroke-width="0.8"/><path d="M444.74,86.01L448.14,86.01L446.44,88.73Z" fill="none" stroke="#c8173f" stroke-width="0.8"/><path d="M448.40,81.94L451.80,81.94L450.10,84.66Z" fill="none" stroke="#c8173f" stroke-width="0.8"/><polyline points="309.80,54.27 326.88,36.67 343.96,40.41 361.04,45.03 378.12,46.94 395.20,47.67 412.28,48.92 429.36,48.48 446.44,51.49" fill="none" stroke="#5bad37" stroke-width="1.15" stroke-linejoin="round"/><line x1="309.80" y1="53.14" x2="309.80" y2="57.56" stroke="#5bad37" stroke-width="0.9" /><line x1="308.60" y1="53.14" x2="311.00" y2="53.14" stroke="#5bad37" stroke-width="0.9" /><line x1="308.60" y1="57.56" x2="311.00" y2="57.56" stroke="#5bad37" stroke-width="0.9" /><circle cx="309.80" cy="53.14" r="1.45" fill="none" stroke="#5bad37" stroke-width="0.8"/><circle cx="309.80" cy="57.56" r="1.45" fill="none" stroke="#5bad37" stroke-width="0.8"/><circle cx="314.14" cy="52.74" r="1.45" fill="none" stroke="#5bad37" stroke-width="0.8"/><line x1="326.88" y1="33.94" x2="326.88" y2="38.76" stroke="#5bad37" stroke-width="0.9" /><line x1="325.68" y1="33.94" x2="328.08" y2="33.94" stroke="#5bad37" stroke-width="0.9" /><line x1="325.68" y1="38.76" x2="328.08" y2="38.76" stroke="#5bad37" stroke-width="0.9" /><circle cx="326.88" cy="33.94" r="1.45" fill="none" stroke="#5bad37" stroke-width="0.8"/><circle cx="326.88" cy="38.76" r="1.45" fill="none" stroke="#5bad37" stroke-width="0.8"/><circle cx="330.61" cy="36.29" r="1.45" fill="none" stroke="#5bad37" stroke-width="0.8"/><line x1="343.96" y1="38.82" x2="343.96" y2="42.56" stroke="#5bad37" stroke-width="0.9" /><line x1="342.76" y1="38.82" x2="345.16" y2="38.82" stroke="#5bad37" stroke-width="0.9" /><line x1="342.76" y1="42.56" x2="345.16" y2="42.56" stroke="#5bad37" stroke-width="0.9" /><circle cx="343.96" cy="38.82" r="1.45" fill="none" stroke="#5bad37" stroke-width="0.8"/><circle cx="343.96" cy="42.56" r="1.45" fill="none" stroke="#5bad37" stroke-width="0.8"/><circle cx="348.04" cy="40.57" r="1.45" fill="none" stroke="#5bad37" stroke-width="0.8"/><line x1="361.04" y1="43.17" x2="361.04" y2="46.56" stroke="#5bad37" stroke-width="0.9" /><line x1="359.84" y1="43.17" x2="362.24" y2="43.17" stroke="#5bad37" stroke-width="0.9" /><line x1="359.84" y1="46.56" x2="362.24" y2="46.56" stroke="#5bad37" stroke-width="0.9" /><circle cx="361.04" cy="43.17" r="1.45" fill="none" stroke="#5bad37" stroke-width="0.8"/><circle cx="361.04" cy="46.56" r="1.45" fill="none" stroke="#5bad37" stroke-width="0.8"/><circle cx="363.80" cy="45.20" r="1.45" fill="none" stroke="#5bad37" stroke-width="0.8"/><line x1="378.12" y1="44.02" x2="378.12" y2="48.82" stroke="#5bad37" stroke-width="0.9" /><line x1="376.92" y1="44.02" x2="379.32" y2="44.02" stroke="#5bad37" stroke-width="0.9" /><line x1="376.92" y1="48.82" x2="379.32" y2="48.82" stroke="#5bad37" stroke-width="0.9" /><circle cx="378.12" cy="44.02" r="1.45" fill="none" stroke="#5bad37" stroke-width="0.8"/><circle cx="378.12" cy="48.82" r="1.45" fill="none" stroke="#5bad37" stroke-width="0.8"/><circle cx="382.13" cy="46.49" r="1.45" fill="none" stroke="#5bad37" stroke-width="0.8"/><line x1="395.20" y1="45.58" x2="395.20" y2="49.74" stroke="#5bad37" stroke-width="0.9" /><line x1="394.00" y1="45.58" x2="396.40" y2="45.58" stroke="#5bad37" stroke-width="0.9" /><line x1="394.00" y1="49.74" x2="396.40" y2="49.74" stroke="#5bad37" stroke-width="0.9" /><circle cx="395.20" cy="45.58" r="1.45" fill="none" stroke="#5bad37" stroke-width="0.8"/><circle cx="395.20" cy="49.74" r="1.45" fill="none" stroke="#5bad37" stroke-width="0.8"/><circle cx="399.33" cy="49.08" r="1.45" fill="none" stroke="#5bad37" stroke-width="0.8"/><line x1="412.28" y1="45.63" x2="412.28" y2="50.59" stroke="#5bad37" stroke-width="0.9" /><line x1="411.08" y1="45.63" x2="413.48" y2="45.63" stroke="#5bad37" stroke-width="0.9" /><line x1="411.08" y1="50.59" x2="413.48" y2="50.59" stroke="#5bad37" stroke-width="0.9" /><circle cx="412.28" cy="45.63" r="1.45" fill="none" stroke="#5bad37" stroke-width="0.8"/><circle cx="412.28" cy="50.59" r="1.45" fill="none" stroke="#5bad37" stroke-width="0.8"/><circle cx="414.90" cy="47.29" r="1.45" fill="none" stroke="#5bad37" stroke-width="0.8"/><line x1="429.36" y1="46.76" x2="429.36" y2="49.77" stroke="#5bad37" stroke-width="0.9" /><line x1="428.16" y1="46.76" x2="430.56" y2="46.76" stroke="#5bad37" stroke-width="0.9" /><line x1="428.16" y1="49.77" x2="430.56" y2="49.77" stroke="#5bad37" stroke-width="0.9" /><circle cx="429.36" cy="46.76" r="1.45" fill="none" stroke="#5bad37" stroke-width="0.8"/><circle cx="429.36" cy="49.77" r="1.45" fill="none" stroke="#5bad37" stroke-width="0.8"/><circle cx="433.58" cy="46.69" r="1.45" fill="none" stroke="#5bad37" stroke-width="0.8"/><line x1="446.44" y1="48.33" x2="446.44" y2="53.09" stroke="#5bad37" stroke-width="0.9" /><line x1="445.24" y1="48.33" x2="447.64" y2="48.33" stroke="#5bad37" stroke-width="0.9" /><line x1="445.24" y1="53.09" x2="447.64" y2="53.09" stroke="#5bad37" stroke-width="0.9" /><circle cx="446.44" cy="48.33" r="1.45" fill="none" stroke="#5bad37" stroke-width="0.8"/><circle cx="446.44" cy="53.09" r="1.45" fill="none" stroke="#5bad37" stroke-width="0.8"/><circle cx="442.34" cy="52.07" r="1.45" fill="none" stroke="#5bad37" stroke-width="0.8"/><line x1="314.00" y1="90.80" x2="326.40" y2="90.80" stroke="#5bad37" stroke-width="1.0" /><circle cx="320.10" cy="90.80" r="1.6" fill="none" stroke="#5bad37" stroke-width="0.8"/><text x="331.00" y="93.60" font-size="7.9" text-anchor="start" fill="#231f20" font-weight="normal" textLength="17.50" lengthAdjust="spacingAndGlyphs"  stroke="#231f20" stroke-width="0.1">K562</text><line x1="314.00" y1="103.20" x2="326.40" y2="103.20" stroke="#35599c" stroke-width="1.0" /><circle cx="320.10" cy="103.20" r="1.6" fill="none" stroke="#35599c" stroke-width="0.8"/><text x="331.00" y="106.00" font-size="7.9" text-anchor="start" fill="#231f20" font-weight="normal" textLength="22.20" lengthAdjust="spacingAndGlyphs"  stroke="#231f20" stroke-width="0.1">KCL22</text><line x1="314.00" y1="115.60" x2="326.40" y2="115.60" stroke="#c8173f" stroke-width="1.0" /><path d="M318.40,114.41L321.80,114.41L320.10,117.13Z" fill="#c8173f" stroke="#c8173f" stroke-width="0.8"/><text x="331.00" y="118.40" font-size="7.9" text-anchor="start" fill="#231f20" font-weight="normal" textLength="18.70" lengthAdjust="spacingAndGlyphs"  stroke="#231f20" stroke-width="0.1">KYO1</text><text x="378.90" y="165.60" font-size="8.4" text-anchor="middle" fill="#231f20" font-weight="normal" textLength="33.70" lengthAdjust="spacingAndGlyphs"  stroke="#231f20" stroke-width="0.25">DAC (uM)</text><line x1="62.00" y1="196.10" x2="62.00" y2="302.80" stroke="#231f20" stroke-width="1.3" /><line x1="58.80" y1="302.10" x2="62.00" y2="302.10" stroke="#231f20" stroke-width="1.0" /><text x="55.50" y="305.10" font-size="8.2" text-anchor="end" fill="#231f20" font-weight="normal"  stroke="#231f20" stroke-width="0.15">0%</text><line x1="58.80" y1="284.90" x2="62.00" y2="284.90" stroke="#231f20" stroke-width="1.0" /><text x="55.50" y="287.90" font-size="8.2" text-anchor="end" fill="#231f20" font-weight="normal"  stroke="#231f20" stroke-width="0.15">20%</text><line x1="58.80" y1="267.70" x2="62.00" y2="267.70" stroke="#231f20" stroke-width="1.0" /><text x="55.50" y="270.70" font-size="8.2" text-anchor="end" fill="#231f20" font-weight="normal"  stroke="#231f20" stroke-width="0.15">40%</text><line x1="58.80" y1="250.50" x2="62.00" y2="250.50" stroke="#231f20" stroke-width="1.0" /><text x="55.50" y="253.50" font-size="8.2" text-anchor="end" fill="#231f20" font-weight="normal"  stroke="#231f20" stroke-width="0.15">60%</text><line x1="58.80" y1="233.30" x2="62.00" y2="233.30" stroke="#231f20" stroke-width="1.0" /><text x="55.50" y="236.30" font-size="8.2" text-anchor="end" fill="#231f20" font-weight="normal"  stroke="#231f20" stroke-width="0.15">80%</text><line x1="58.80" y1="216.10" x2="62.00" y2="216.10" stroke="#231f20" stroke-width="1.0" /><text x="55.50" y="219.10" font-size="8.2" text-anchor="end" fill="#231f20" font-weight="normal"  stroke="#231f20" stroke-width="0.15">100%</text><line x1="58.80" y1="198.90" x2="62.00" y2="198.90" stroke="#231f20" stroke-width="1.0" /><text x="55.50" y="201.90" font-size="8.2" text-anchor="end" fill="#231f20" font-weight="normal"  stroke="#231f20" stroke-width="0.15">120%</text><text transform="translate(28.80,249.10) rotate(-90)" font-size="8.8" text-anchor="middle" fill="#231f20" font-weight="normal" textLength="58.30" lengthAdjust="spacingAndGlyphs"  stroke="#231f20" stroke-width="0.2">Relative viability</text><line x1="61.40" y1="302.10" x2="216.80" y2="302.10" stroke="#231f20" stroke-width="1.3" /><line x1="77.20" y1="302.10" x2="77.20" y2="305.30" stroke="#231f20" stroke-width="1.0" /><line x1="108.20" y1="302.10" x2="108.20" y2="305.30" stroke="#231f20" stroke-width="1.0" /><line x1="139.20" y1="302.10" x2="139.20" y2="305.30" stroke="#231f20" stroke-width="1.0" /><line x1="170.20" y1="302.10" x2="170.20" y2="305.30" stroke="#231f20" stroke-width="1.0" /><line x1="201.20" y1="302.10" x2="201.20" y2="305.30" stroke="#231f20" stroke-width="1.0" /><text x="77.20" y="315.90" font-size="7.7" text-anchor="middle" fill="#231f20" font-weight="normal"  stroke="#231f20" stroke-width="0.1">0</text><text x="108.20" y="315.90" font-size="7.7" text-anchor="middle" fill="#231f20" font-weight="normal"  stroke="#231f20" stroke-width="0.1">1.25</text><text x="139.20" y="315.90" font-size="7.7" text-anchor="middle" fill="#231f20" font-weight="normal"  stroke="#231f20" stroke-width="0.1">2.5</text><text x="170.20" y="315.90" font-size="7.7" text-anchor="middle" fill="#231f20" font-weight="normal"  stroke="#231f20" stroke-width="0.1">5</text><text x="201.20" y="315.90" font-size="7.7" text-anchor="middle" fill="#231f20" font-weight="normal"  stroke="#231f20" stroke-width="0.1">10</text><polyline points="77.20,215.67 108.20,223.41 139.20,224.18 170.20,225.82 201.20,230.72" fill="none" stroke="#35599c" stroke-width="1.15" stroke-linejoin="round"/><line x1="77.20" y1="211.76" x2="77.20" y2="218.40" stroke="#35599c" stroke-width="0.9" /><line x1="76.00" y1="211.76" x2="78.40" y2="211.76" stroke="#35599c" stroke-width="0.9" /><line x1="76.00" y1="218.40" x2="78.40" y2="218.40" stroke="#35599c" stroke-width="0.9" /><circle cx="75.70" cy="211.76" r="1.45" fill="none" stroke="#35599c" stroke-width="0.8"/><circle cx="78.56" cy="218.40" r="1.45" fill="none" stroke="#35599c" stroke-width="0.8"/><circle cx="70.05" cy="216.49" r="1.45" fill="none" stroke="#35599c" stroke-width="0.8"/><circle cx="87.91" cy="213.22" r="1.45" fill="none" stroke="#35599c" stroke-width="0.8"/><line x1="108.20" y1="221.18" x2="108.20" y2="225.83" stroke="#35599c" stroke-width="0.9" /><line x1="107.00" y1="221.18" x2="109.40" y2="221.18" stroke="#35599c" stroke-width="0.9" /><line x1="107.00" y1="225.83" x2="109.40" y2="225.83" stroke="#35599c" stroke-width="0.9" /><circle cx="105.73" cy="221.18" r="1.45" fill="none" stroke="#35599c" stroke-width="0.8"/><circle cx="110.35" cy="225.83" r="1.45" fill="none" stroke="#35599c" stroke-width="0.8"/><circle cx="100.92" cy="225.02" r="1.45" fill="none" stroke="#35599c" stroke-width="0.8"/><circle cx="118.33" cy="220.88" r="1.45" fill="none" stroke="#35599c" stroke-width="0.8"/><line x1="139.20" y1="220.13" x2="139.20" y2="227.43" stroke="#35599c" stroke-width="0.9" /><line x1="138.00" y1="220.13" x2="140.40" y2="220.13" stroke="#35599c" stroke-width="0.9" /><line x1="138.00" y1="227.43" x2="140.40" y2="227.43" stroke="#35599c" stroke-width="0.9" /><circle cx="136.81" cy="220.13" r="1.45" fill="none" stroke="#35599c" stroke-width="0.8"/><circle cx="141.71" cy="227.43" r="1.45" fill="none" stroke="#35599c" stroke-width="0.8"/><circle cx="131.49" cy="224.21" r="1.45" fill="none" stroke="#35599c" stroke-width="0.8"/><circle cx="150.30" cy="220.69" r="1.45" fill="none" stroke="#35599c" stroke-width="0.8"/><line x1="170.20" y1="223.09" x2="170.20" y2="228.85" stroke="#35599c" stroke-width="0.9" /><line x1="169.00" y1="223.09" x2="171.40" y2="223.09" stroke="#35599c" stroke-width="0.9" /><line x1="169.00" y1="228.85" x2="171.40" y2="228.85" stroke="#35599c" stroke-width="0.9" /><circle cx="169.03" cy="223.09" r="1.45" fill="none" stroke="#35599c" stroke-width="0.8"/><circle cx="172.08" cy="228.85" r="1.45" fill="none" stroke="#35599c" stroke-width="0.8"/><circle cx="163.66" cy="225.99" r="1.45" fill="none" stroke="#35599c" stroke-width="0.8"/><circle cx="180.75" cy="222.95" r="1.45" fill="none" stroke="#35599c" stroke-width="0.8"/><line x1="201.20" y1="226.94" x2="201.20" y2="233.59" stroke="#35599c" stroke-width="0.9" /><line x1="200.00" y1="226.94" x2="202.40" y2="226.94" stroke="#35599c" stroke-width="0.9" /><line x1="200.00" y1="233.59" x2="202.40" y2="233.59" stroke="#35599c" stroke-width="0.9" /><circle cx="200.17" cy="226.94" r="1.45" fill="none" stroke="#35599c" stroke-width="0.8"/><circle cx="202.45" cy="233.59" r="1.45" fill="none" stroke="#35599c" stroke-width="0.8"/><circle cx="193.39" cy="232.46" r="1.45" fill="none" stroke="#35599c" stroke-width="0.8"/><circle cx="213.07" cy="227.01" r="1.45" fill="none" stroke="#35599c" stroke-width="0.8"/><polyline points="77.20,215.41 108.20,222.81 139.20,222.21 170.20,226.16 201.20,230.72" fill="none" stroke="#c8173f" stroke-width="1.15" stroke-linejoin="round"/><line x1="77.20" y1="213.15" x2="77.20" y2="219.22" stroke="#c8173f" stroke-width="0.9" /><line x1="76.00" y1="213.15" x2="78.40" y2="213.15" stroke="#c8173f" stroke-width="0.9" /><line x1="76.00" y1="219.22" x2="78.40" y2="219.22" stroke="#c8173f" stroke-width="0.9" /><path d="M76.13,211.96L79.53,211.96L77.83,214.68Z" fill="none" stroke="#c8173f" stroke-width="0.8"/><path d="M76.08,218.03L79.48,218.03L77.78,220.75Z" fill="none" stroke="#c8173f" stroke-width="0.8"/><path d="M64.57,215.37L67.97,215.37L66.27,218.09Z" fill="none" stroke="#c8173f" stroke-width="0.8"/><path d="M83.16,208.66L86.56,208.66L84.86,211.38Z" fill="none" stroke="#c8173f" stroke-width="0.8"/><line x1="108.20" y1="219.52" x2="108.20" y2="225.96" stroke="#c8173f" stroke-width="0.9" /><line x1="107.00" y1="219.52" x2="109.40" y2="219.52" stroke="#c8173f" stroke-width="0.9" /><line x1="107.00" y1="225.96" x2="109.40" y2="225.96" stroke="#c8173f" stroke-width="0.9" /><path d="M105.79,218.33L109.19,218.33L107.49,221.05Z" fill="none" stroke="#c8173f" stroke-width="0.8"/><path d="M106.35,224.77L109.75,224.77L108.05,227.49Z" fill="none" stroke="#c8173f" stroke-width="0.8"/><path d="M95.52,222.88L98.92,222.88L97.22,225.60Z" fill="none" stroke="#c8173f" stroke-width="0.8"/><path d="M114.10,216.57L117.50,216.57L115.80,219.29Z" fill="none" stroke="#c8173f" stroke-width="0.8"/><line x1="139.20" y1="217.67" x2="139.20" y2="225.61" stroke="#c8173f" stroke-width="0.9" /><line x1="138.00" y1="217.67" x2="140.40" y2="217.67" stroke="#c8173f" stroke-width="0.9" /><line x1="138.00" y1="225.61" x2="140.40" y2="225.61" stroke="#c8173f" stroke-width="0.9" /><path d="M137.10,216.48L140.50,216.48L138.80,219.20Z" fill="none" stroke="#c8173f" stroke-width="0.8"/><path d="M138.17,224.42L141.57,224.42L139.87,227.14Z" fill="none" stroke="#c8173f" stroke-width="0.8"/><path d="M126.58,219.83L129.98,219.83L128.28,222.55Z" fill="none" stroke="#c8173f" stroke-width="0.8"/><path d="M144.61,216.56L148.01,216.56L146.31,219.28Z" fill="none" stroke="#c8173f" stroke-width="0.8"/><line x1="170.20" y1="222.50" x2="170.20" y2="228.02" stroke="#c8173f" stroke-width="0.9" /><line x1="169.00" y1="222.50" x2="171.40" y2="222.50" stroke="#c8173f" stroke-width="0.9" /><line x1="169.00" y1="228.02" x2="171.40" y2="228.02" stroke="#c8173f" stroke-width="0.9" /><path d="M167.72,221.31L171.12,221.31L169.42,224.03Z" fill="none" stroke="#c8173f" stroke-width="0.8"/><path d="M169.38,226.83L172.78,226.83L171.08,229.55Z" fill="none" stroke="#c8173f" stroke-width="0.8"/><path d="M156.95,225.73L160.35,225.73L158.65,228.45Z" fill="none" stroke="#c8173f" stroke-width="0.8"/><path d="M175.25,221.09L178.65,221.09L176.95,223.81Z" fill="none" stroke="#c8173f" stroke-width="0.8"/><line x1="201.20" y1="226.96" x2="201.20" y2="233.24" stroke="#c8173f" stroke-width="0.9" /><line x1="200.00" y1="226.96" x2="202.40" y2="226.96" stroke="#c8173f" stroke-width="0.9" /><line x1="200.00" y1="233.24" x2="202.40" y2="233.24" stroke="#c8173f" stroke-width="0.9" /><path d="M200.46,225.77L203.86,225.77L202.16,228.49Z" fill="none" stroke="#c8173f" stroke-width="0.8"/><path d="M199.25,232.05L202.65,232.05L200.95,234.77Z" fill="none" stroke="#c8173f" stroke-width="0.8"/><path d="M188.11,229.91L191.51,229.91L189.81,232.63Z" fill="none" stroke="#c8173f" stroke-width="0.8"/><path d="M205.84,224.04L209.24,224.04L207.54,226.76Z" fill="none" stroke="#c8173f" stroke-width="0.8"/><polyline points="77.20,215.84 108.20,224.18 139.20,225.99 170.20,228.48 201.20,232.01" fill="none" stroke="#5bad37" stroke-width="1.15" stroke-linejoin="round"/><line x1="77.20" y1="211.60" x2="77.20" y2="218.25" stroke="#5bad37" stroke-width="0.9" /><line x1="76.00" y1="211.60" x2="78.40" y2="211.60" stroke="#5bad37" stroke-width="0.9" /><line x1="76.00" y1="218.25" x2="78.40" y2="218.25" stroke="#5bad37" stroke-width="0.9" /><circle cx="79.09" cy="211.60" r="1.45" fill="none" stroke="#5bad37" stroke-width="0.8"/><circle cx="76.72" cy="218.25" r="1.45" fill="none" stroke="#5bad37" stroke-width="0.8"/><circle cx="65.92" cy="212.01" r="1.45" fill="none" stroke="#5bad37" stroke-width="0.8"/><circle cx="72.77" cy="220.84" r="1.45" fill="none" stroke="#5bad37" stroke-width="0.8"/><circle cx="86.03" cy="218.86" r="1.45" fill="none" stroke="#5bad37" stroke-width="0.8"/><circle cx="90.12" cy="215.50" r="1.45" fill="none" stroke="#5bad37" stroke-width="0.8"/><line x1="108.20" y1="221.06" x2="108.20" y2="226.72" stroke="#5bad37" stroke-width="0.9" /><line x1="107.00" y1="221.06" x2="109.40" y2="221.06" stroke="#5bad37" stroke-width="0.9" /><line x1="107.00" y1="226.72" x2="109.40" y2="226.72" stroke="#5bad37" stroke-width="0.9" /><circle cx="108.98" cy="221.06" r="1.45" fill="none" stroke="#5bad37" stroke-width="0.8"/><circle cx="106.49" cy="226.72" r="1.45" fill="none" stroke="#5bad37" stroke-width="0.8"/><circle cx="96.76" cy="222.81" r="1.45" fill="none" stroke="#5bad37" stroke-width="0.8"/><circle cx="102.98" cy="229.37" r="1.45" fill="none" stroke="#5bad37" stroke-width="0.8"/><circle cx="118.11" cy="227.17" r="1.45" fill="none" stroke="#5bad37" stroke-width="0.8"/><circle cx="122.08" cy="224.29" r="1.45" fill="none" stroke="#5bad37" stroke-width="0.8"/><line x1="139.20" y1="223.78" x2="139.20" y2="228.22" stroke="#5bad37" stroke-width="0.9" /><line x1="138.00" y1="223.78" x2="140.40" y2="223.78" stroke="#5bad37" stroke-width="0.9" /><line x1="138.00" y1="228.22" x2="140.40" y2="228.22" stroke="#5bad37" stroke-width="0.9" /><circle cx="139.82" cy="223.78" r="1.45" fill="none" stroke="#5bad37" stroke-width="0.8"/><circle cx="137.36" cy="228.22" r="1.45" fill="none" stroke="#5bad37" stroke-width="0.8"/><circle cx="126.61" cy="222.19" r="1.45" fill="none" stroke="#5bad37" stroke-width="0.8"/><circle cx="134.56" cy="230.20" r="1.45" fill="none" stroke="#5bad37" stroke-width="0.8"/><circle cx="147.48" cy="228.61" r="1.45" fill="none" stroke="#5bad37" stroke-width="0.8"/><circle cx="152.50" cy="227.25" r="1.45" fill="none" stroke="#5bad37" stroke-width="0.8"/><line x1="170.20" y1="224.98" x2="170.20" y2="232.04" stroke="#5bad37" stroke-width="0.9" /><line x1="169.00" y1="224.98" x2="171.40" y2="224.98" stroke="#5bad37" stroke-width="0.9" /><line x1="169.00" y1="232.04" x2="171.40" y2="232.04" stroke="#5bad37" stroke-width="0.9" /><circle cx="171.79" cy="224.98" r="1.45" fill="none" stroke="#5bad37" stroke-width="0.8"/><circle cx="169.55" cy="232.04" r="1.45" fill="none" stroke="#5bad37" stroke-width="0.8"/><circle cx="157.77" cy="226.39" r="1.45" fill="none" stroke="#5bad37" stroke-width="0.8"/><circle cx="164.33" cy="231.93" r="1.45" fill="none" stroke="#5bad37" stroke-width="0.8"/><circle cx="180.04" cy="233.12" r="1.45" fill="none" stroke="#5bad37" stroke-width="0.8"/><circle cx="182.20" cy="229.33" r="1.45" fill="none" stroke="#5bad37" stroke-width="0.8"/><line x1="201.20" y1="229.15" x2="201.20" y2="235.14" stroke="#5bad37" stroke-width="0.9" /><line x1="200.00" y1="229.15" x2="202.40" y2="229.15" stroke="#5bad37" stroke-width="0.9" /><line x1="200.00" y1="235.14" x2="202.40" y2="235.14" stroke="#5bad37" stroke-width="0.9" /><circle cx="201.24" cy="229.15" r="1.45" fill="none" stroke="#5bad37" stroke-width="0.8"/><circle cx="199.33" cy="235.14" r="1.45" fill="none" stroke="#5bad37" stroke-width="0.8"/><circle cx="188.57" cy="229.46" r="1.45" fill="none" stroke="#5bad37" stroke-width="0.8"/><circle cx="197.01" cy="236.02" r="1.45" fill="none" stroke="#5bad37" stroke-width="0.8"/><circle cx="210.30" cy="235.85" r="1.45" fill="none" stroke="#5bad37" stroke-width="0.8"/><circle cx="215.12" cy="232.01" r="1.45" fill="none" stroke="#5bad37" stroke-width="0.8"/><line x1="71.90" y1="250.40" x2="84.30" y2="250.40" stroke="#5bad37" stroke-width="1.0" /><circle cx="78.00" cy="250.40" r="1.6" fill="none" stroke="#5bad37" stroke-width="0.8"/><text x="88.90" y="253.20" font-size="7.9" text-anchor="start" fill="#231f20" font-weight="normal" textLength="17.50" lengthAdjust="spacingAndGlyphs"  stroke="#231f20" stroke-width="0.1">K562</text><line x1="71.90" y1="263.00" x2="84.30" y2="263.00" stroke="#35599c" stroke-width="1.0" /><circle cx="78.00" cy="263.00" r="1.6" fill="none" stroke="#35599c" stroke-width="0.8"/><text x="88.90" y="265.80" font-size="7.9" text-anchor="start" fill="#231f20" font-weight="normal" textLength="22.20" lengthAdjust="spacingAndGlyphs"  stroke="#231f20" stroke-width="0.1">KCL22</text><line x1="71.90" y1="275.60" x2="84.30" y2="275.60" stroke="#c8173f" stroke-width="1.0" /><path d="M76.30,274.41L79.70,274.41L78.00,277.13Z" fill="#c8173f" stroke="#c8173f" stroke-width="0.8"/><text x="88.90" y="278.40" font-size="7.9" text-anchor="start" fill="#231f20" font-weight="normal" textLength="18.70" lengthAdjust="spacingAndGlyphs"  stroke="#231f20" stroke-width="0.1">KYO1</text><text x="139.60" y="329.20" font-size="8.4" text-anchor="middle" fill="#231f20" font-weight="normal" textLength="48.40" lengthAdjust="spacingAndGlyphs"  stroke="#231f20" stroke-width="0.25">GSK126 (uM)</text><line x1="301.20" y1="196.30" x2="301.20" y2="302.10" stroke="#231f20" stroke-width="1.3" /><line x1="298.20" y1="301.50" x2="301.20" y2="301.50" stroke="#231f20" stroke-width="1.0" /><text x="294.80" y="304.40" font-size="8.2" text-anchor="end" fill="#231f20" font-weight="normal"  stroke="#231f20" stroke-width="0.1">0%</text><line x1="298.20" y1="284.37" x2="301.20" y2="284.37" stroke="#231f20" stroke-width="1.0" /><text x="294.80" y="287.27" font-size="8.2" text-anchor="end" fill="#231f20" font-weight="normal"  stroke="#231f20" stroke-width="0.1">20%</text><line x1="298.20" y1="267.24" x2="301.20" y2="267.24" stroke="#231f20" stroke-width="1.0" /><text x="294.80" y="270.14" font-size="8.2" text-anchor="end" fill="#231f20" font-weight="normal"  stroke="#231f20" stroke-width="0.1">40%</text><line x1="298.20" y1="250.11" x2="301.20" y2="250.11" stroke="#231f20" stroke-width="1.0" /><text x="294.80" y="253.01" font-size="8.2" text-anchor="end" fill="#231f20" font-weight="normal"  stroke="#231f20" stroke-width="0.1">60%</text><line x1="298.20" y1="232.98" x2="301.20" y2="232.98" stroke="#231f20" stroke-width="1.0" /><text x="294.80" y="235.88" font-size="8.2" text-anchor="end" fill="#231f20" font-weight="normal"  stroke="#231f20" stroke-width="0.1">80%</text><line x1="298.20" y1="215.85" x2="301.20" y2="215.85" stroke="#231f20" stroke-width="1.0" /><text x="294.80" y="218.75" font-size="8.2" text-anchor="end" fill="#231f20" font-weight="normal"  stroke="#231f20" stroke-width="0.1">100%</text><line x1="298.20" y1="198.72" x2="301.20" y2="198.72" stroke="#231f20" stroke-width="1.0" /><text x="294.80" y="201.62" font-size="8.2" text-anchor="end" fill="#231f20" font-weight="normal"  stroke="#231f20" stroke-width="0.1">120%</text><text transform="translate(267.40,248.80) rotate(-90)" font-size="8.7" text-anchor="middle" fill="#231f20" font-weight="normal" textLength="89.40" lengthAdjust="spacingAndGlyphs"  stroke="#231f20" stroke-width="0.1">Relative colony formation</text><line x1="300.60" y1="301.50" x2="452.30" y2="301.50" stroke="#231f20" stroke-width="1.2" /><rect x="313.90" y="215.85" width="22.30" height="85.65" fill="#d48a7e" /><line x1="325.05" y1="301.50" x2="325.05" y2="304.40" stroke="#231f20" stroke-width="1.0" /><rect x="349.10" y="281.46" width="22.90" height="20.04" fill="#8f9dca" /><line x1="360.55" y1="301.50" x2="360.55" y2="304.40" stroke="#231f20" stroke-width="1.0" /><rect x="384.60" y="271.09" width="23.10" height="30.41" fill="#b7d69f" /><line x1="396.15" y1="301.50" x2="396.15" y2="304.40" stroke="#231f20" stroke-width="1.0" /><rect x="420.00" y="248.83" width="23.00" height="52.67" fill="#9d86b8" /><line x1="431.50" y1="301.50" x2="431.50" y2="304.40" stroke="#231f20" stroke-width="1.0" /><circle cx="315.20" cy="216.30" r="1.9" fill="#a8001c" stroke="none" stroke-width="0.8"/><circle cx="325.00" cy="216.30" r="1.9" fill="#a8001c" stroke="none" stroke-width="0.8"/><circle cx="334.60" cy="216.30" r="1.9" fill="#a8001c" stroke="none" stroke-width="0.8"/><line x1="360.60" y1="276.00" x2="360.60" y2="285.50" stroke="#2a4a90" stroke-width="0.9" /><line x1="355.10" y1="276.00" x2="366.10" y2="276.00" stroke="#2a4a90" stroke-width="0.9" /><line x1="356.50" y1="285.80" x2="365.20" y2="285.00" stroke="#2a4a90" stroke-width="0.9" /><rect x="359.10" y="269.40" width="3.60" height="3.60" fill="#1f3f8a" /><rect x="354.70" y="284.50" width="3.60" height="3.60" fill="#1f3f8a" /><rect x="363.40" y="283.20" width="3.60" height="3.60" fill="#1f3f8a" /><text x="360.90" y="260.50" font-size="9.5" text-anchor="middle" fill="#231f20" font-weight="normal"  stroke="#231f20" stroke-width="0.1">*</text><line x1="396.20" y1="261.90" x2="396.20" y2="278.80" stroke="#5aa83a" stroke-width="0.9" /><line x1="390.70" y1="261.90" x2="401.70" y2="261.90" stroke="#5aa83a" stroke-width="0.9" /><line x1="390.70" y1="278.80" x2="401.70" y2="278.80" stroke="#5aa83a" stroke-width="0.9" /><path d="M394.00,256.35L399.20,256.35L396.60,251.93Z" fill="#55a82c"/><path d="M388.80,280.95L394.00,280.95L391.40,276.53Z" fill="#55a82c"/><path d="M398.90,280.95L404.10,280.95L401.50,276.53Z" fill="#55a82c"/><text x="396.60" y="245.60" font-size="9.5" text-anchor="middle" fill="#231f20" font-weight="normal"  stroke="#231f20" stroke-width="0.1">**</text><line x1="431.50" y1="237.90" x2="431.50" y2="259.50" stroke="#5a2a7e" stroke-width="0.9" /><line x1="426.00" y1="237.90" x2="437.00" y2="237.90" stroke="#5a2a7e" stroke-width="0.9" /><line x1="426.00" y1="259.50" x2="437.00" y2="259.50" stroke="#5a2a7e" stroke-width="0.9" /><path d="M431.70,225.60L434.10,228.00L431.70,230.40L429.30,228.00Z" fill="#4f2470"/><path d="M431.70,249.60L434.10,252.00L431.70,254.40L429.30,252.00Z" fill="#4f2470"/><path d="M431.70,262.60L434.10,265.00L431.70,267.40L429.30,265.00Z" fill="#4f2470"/><text x="384.60" y="199.60" font-size="7.6" text-anchor="middle" fill="#231f20" font-weight="normal" textLength="28.50" lengthAdjust="spacingAndGlyphs"  stroke="#231f20" stroke-width="0.2">BC (n=3)</text><text x="325.10" y="315.50" font-size="8.4" text-anchor="middle" fill="#231f20" font-weight="normal" textLength="24.10" lengthAdjust="spacingAndGlyphs"  stroke="#231f20" stroke-width="0.1">DMSO</text><text x="360.90" y="315.50" font-size="8.4" text-anchor="middle" fill="#231f20" font-weight="normal" textLength="29.60" lengthAdjust="spacingAndGlyphs"  stroke="#231f20" stroke-width="0.1">PTC209</text><text x="396.20" y="315.50" font-size="8.4" text-anchor="middle" fill="#231f20" font-weight="normal" textLength="17.00" lengthAdjust="spacingAndGlyphs"  stroke="#231f20" stroke-width="0.1">DAC</text><text x="431.50" y="315.50" font-size="8.4" text-anchor="middle" fill="#231f20" font-weight="normal" textLength="31.00" lengthAdjust="spacingAndGlyphs"  stroke="#231f20" stroke-width="0.1">GSK126</text><line x1="62.00" y1="362.10" x2="62.00" y2="477.60" stroke="#231f20" stroke-width="1.3" /><line x1="59.00" y1="477.00" x2="62.00" y2="477.00" stroke="#231f20" stroke-width="1.0" /><text x="55.20" y="479.90" font-size="8.2" text-anchor="end" fill="#231f20" font-weight="normal"  stroke="#231f20" stroke-width="0.1">0%</text><line x1="59.00" y1="458.40" x2="62.00" y2="458.40" stroke="#231f20" stroke-width="1.0" /><text x="55.20" y="461.30" font-size="8.2" text-anchor="end" fill="#231f20" font-weight="normal"  stroke="#231f20" stroke-width="0.1">20%</text><line x1="59.00" y1="439.80" x2="62.00" y2="439.80" stroke="#231f20" stroke-width="1.0" /><text x="55.20" y="442.70" font-size="8.2" text-anchor="end" fill="#231f20" font-weight="normal"  stroke="#231f20" stroke-width="0.1">40%</text><line x1="59.00" y1="421.20" x2="62.00" y2="421.20" stroke="#231f20" stroke-width="1.0" /><text x="55.20" y="424.10" font-size="8.2" text-anchor="end" fill="#231f20" font-weight="normal"  stroke="#231f20" stroke-width="0.1">60%</text><line x1="59.00" y1="402.60" x2="62.00" y2="402.60" stroke="#231f20" stroke-width="1.0" /><text x="55.20" y="405.50" font-size="8.2" text-anchor="end" fill="#231f20" font-weight="normal"  stroke="#231f20" stroke-width="0.1">80%</text><line x1="59.00" y1="384.00" x2="62.00" y2="384.00" stroke="#231f20" stroke-width="1.0" /><text x="55.20" y="386.90" font-size="8.2" text-anchor="end" fill="#231f20" font-weight="normal"  stroke="#231f20" stroke-width="0.1">100%</text><line x1="59.00" y1="365.40" x2="62.00" y2="365.40" stroke="#231f20" stroke-width="1.0" /><text x="55.20" y="368.30" font-size="8.2" text-anchor="end" fill="#231f20" font-weight="normal"  stroke="#231f20" stroke-width="0.1">120%</text><text transform="translate(27.40,423.80) rotate(-90)" font-size="8.7" text-anchor="middle" fill="#231f20" font-weight="normal" textLength="89.40" lengthAdjust="spacingAndGlyphs"  stroke="#231f20" stroke-width="0.1">Relative colony formation</text><line x1="61.40" y1="477.00" x2="230.50" y2="477.00" stroke="#231f20" stroke-width="1.2" /><rect x="69.10" y="384.00" width="11.00" height="93.00" fill="#bdb6e0" /><rect x="87.40" y="426.31" width="11.40" height="50.69" fill="#bdb6e0" /><rect x="106.10" y="447.24" width="11.70" height="29.76" fill="#bdb6e0" /><rect x="125.10" y="462.77" width="11.00" height="14.23" fill="#bdb6e0" /><rect x="155.80" y="384.46" width="11.40" height="92.54" fill="#b8d69f" /><rect x="174.30" y="388.19" width="11.90" height="88.81" fill="#b8d69f" /><rect x="193.10" y="409.11" width="11.80" height="67.89" fill="#b8d69f" /><rect x="212.00" y="396.09" width="11.10" height="80.91" fill="#b8d69f" /><line x1="74.60" y1="477.00" x2="74.60" y2="479.80" stroke="#231f20" stroke-width="1.0" /><line x1="92.90" y1="477.00" x2="92.90" y2="479.80" stroke="#231f20" stroke-width="1.0" /><line x1="111.50" y1="477.00" x2="111.50" y2="479.80" stroke="#231f20" stroke-width="1.0" /><line x1="130.40" y1="477.00" x2="130.40" y2="479.80" stroke="#231f20" stroke-width="1.0" /><line x1="161.50" y1="477.00" x2="161.50" y2="479.80" stroke="#231f20" stroke-width="1.0" /><line x1="180.30" y1="477.00" x2="180.30" y2="479.80" stroke="#231f20" stroke-width="1.0" /><line x1="198.90" y1="477.00" x2="198.90" y2="479.80" stroke="#231f20" stroke-width="1.0" /><line x1="217.50" y1="477.00" x2="217.50" y2="479.80" stroke="#231f20" stroke-width="1.0" /><circle cx="70.30" cy="383.70" r="1.7" fill="#8a7cc6" stroke="none" stroke-width="0.8"/><circle cx="73.60" cy="383.70" r="1.7" fill="#8a7cc6" stroke="none" stroke-width="0.8"/><circle cx="76.90" cy="383.70" r="1.7" fill="#8a7cc6" stroke="none" stroke-width="0.8"/><circle cx="80.00" cy="383.70" r="1.7" fill="#8a7cc6" stroke="none" stroke-width="0.8"/><line x1="93.20" y1="414.50" x2="93.20" y2="437.20" stroke="#8a7cc6" stroke-width="0.9" /><line x1="90.20" y1="414.50" x2="96.20" y2="414.50" stroke="#8a7cc6" stroke-width="0.9" /><line x1="90.20" y1="437.20" x2="96.20" y2="437.20" stroke="#8a7cc6" stroke-width="0.9" /><circle cx="93.20" cy="410.90" r="1.7" fill="#8a7cc6" stroke="none" stroke-width="0.8"/><circle cx="93.20" cy="423.70" r="1.7" fill="#8a7cc6" stroke="none" stroke-width="0.8"/><circle cx="93.20" cy="431.30" r="1.7" fill="#8a7cc6" stroke="none" stroke-width="0.8"/><circle cx="93.20" cy="437.00" r="1.7" fill="#8a7cc6" stroke="none" stroke-width="0.8"/><line x1="111.80" y1="439.40" x2="111.80" y2="453.30" stroke="#8a7cc6" stroke-width="0.9" /><line x1="108.80" y1="439.40" x2="114.80" y2="439.40" stroke="#8a7cc6" stroke-width="0.9" /><line x1="108.80" y1="453.30" x2="114.80" y2="453.30" stroke="#8a7cc6" stroke-width="0.9" /><circle cx="111.80" cy="437.20" r="1.7" fill="#8a7cc6" stroke="none" stroke-width="0.8"/><circle cx="111.80" cy="444.90" r="1.7" fill="#8a7cc6" stroke="none" stroke-width="0.8"/><circle cx="107.80" cy="452.50" r="1.7" fill="#8a7cc6" stroke="none" stroke-width="0.8"/><circle cx="115.80" cy="452.50" r="1.7" fill="#8a7cc6" stroke="none" stroke-width="0.8"/><line x1="130.50" y1="453.60" x2="130.50" y2="471.50" stroke="#8a7cc6" stroke-width="0.9" /><line x1="127.50" y1="453.60" x2="133.50" y2="453.60" stroke="#8a7cc6" stroke-width="0.9" /><line x1="127.50" y1="471.50" x2="133.50" y2="471.50" stroke="#8a7cc6" stroke-width="0.9" /><circle cx="126.60" cy="455.30" r="1.7" fill="#8a7cc6" stroke="none" stroke-width="0.8"/><circle cx="134.70" cy="453.60" r="1.7" fill="#8a7cc6" stroke="none" stroke-width="0.8"/><circle cx="130.50" cy="467.50" r="1.7" fill="#8a7cc6" stroke="none" stroke-width="0.8"/><circle cx="130.50" cy="471.80" r="1.7" fill="#8a7cc6" stroke="none" stroke-width="0.8"/><text x="130.50" y="445.50" font-size="7.5" text-anchor="middle" fill="#231f20" font-weight="normal"  stroke="#231f20" stroke-width="0.1">*</text><path d="M157.40,381.60L159.50,383.70L157.40,385.80L155.30,383.70Z" fill="#5fa83a"/><path d="M161.50,381.60L163.60,383.70L161.50,385.80L159.40,383.70Z" fill="#5fa83a"/><path d="M165.80,381.60L167.90,383.70L165.80,385.80L163.70,383.70Z" fill="#5fa83a"/><line x1="180.50" y1="378.50" x2="180.50" y2="397.40" stroke="#5fa83a" stroke-width="0.9" /><line x1="177.50" y1="378.50" x2="183.50" y2="378.50" stroke="#5fa83a" stroke-width="0.9" /><line x1="177.50" y1="397.40" x2="183.50" y2="397.40" stroke="#5fa83a" stroke-width="0.9" /><path d="M176.60,378.80L178.70,380.90L176.60,383.00L174.50,380.90Z" fill="#5fa83a"/><path d="M184.50,381.40L186.60,383.50L184.50,385.60L182.40,383.50Z" fill="#5fa83a"/><path d="M180.50,394.50L182.60,396.60L180.50,398.70L178.40,396.60Z" fill="#5fa83a"/><line x1="198.90" y1="399.40" x2="198.90" y2="418.20" stroke="#5fa83a" stroke-width="0.9" /><line x1="195.90" y1="399.40" x2="201.90" y2="399.40" stroke="#5fa83a" stroke-width="0.9" /><line x1="195.90" y1="418.20" x2="201.90" y2="418.20" stroke="#5fa83a" stroke-width="0.9" /><path d="M194.80,399.90L196.90,402.00L194.80,404.10L192.70,402.00Z" fill="#5fa83a"/><path d="M203.10,402.20L205.20,404.30L203.10,406.40L201.00,404.30Z" fill="#5fa83a"/><path d="M198.90,415.60L201.00,417.70L198.90,419.80L196.80,417.70Z" fill="#5fa83a"/><line x1="217.40" y1="381.50" x2="217.40" y2="409.70" stroke="#5fa83a" stroke-width="0.9" /><line x1="214.40" y1="381.50" x2="220.40" y2="381.50" stroke="#5fa83a" stroke-width="0.9" /><line x1="214.40" y1="409.70" x2="220.40" y2="409.70" stroke="#5fa83a" stroke-width="0.9" /><path d="M217.40,379.40L219.50,381.50L217.40,383.60L215.30,381.50Z" fill="#5fa83a"/><path d="M217.40,393.70L219.50,395.80L217.40,397.90L215.30,395.80Z" fill="#5fa83a"/><path d="M217.40,407.10L219.50,409.20L217.40,411.30L215.30,409.20Z" fill="#5fa83a"/><text x="217.40" y="380.50" font-size="9.5" text-anchor="middle" fill="#231f20" font-weight="normal"  stroke="#231f20" stroke-width="0.1">^</text><line x1="69.90" y1="369.70" x2="137.30" y2="369.70" stroke="#b3abdb" stroke-width="1.4" /><line x1="155.80" y1="369.70" x2="223.10" y2="369.70" stroke="#9ccb7c" stroke-width="1.4" /><text x="104.00" y="364.60" font-size="7.8" text-anchor="middle" fill="#8d85c4" font-weight="normal" textLength="31.20" lengthAdjust="spacingAndGlyphs"  stroke="#8d85c4" stroke-width="0.1">BC (n=4)</text><text x="189.60" y="365.10" font-size="7.8" text-anchor="middle" fill="#7cbb58" font-weight="normal" textLength="46.90" lengthAdjust="spacingAndGlyphs"  stroke="#7cbb58" stroke-width="0.1">Normal (n=3)</text><text transform="translate(76.60,487.40) rotate(-45)" font-size="9.0" text-anchor="end" fill="#231f20" font-weight="normal" textLength="26.30" lengthAdjust="spacingAndGlyphs"  stroke="#231f20" stroke-width="0.1">DMSO</text><text transform="translate(95.50,487.60) rotate(-45)" font-size="9.0" text-anchor="end" fill="#231f20" font-weight="normal" textLength="31.50" lengthAdjust="spacingAndGlyphs"  stroke="#231f20" stroke-width="0.1">PTC209</text><text transform="translate(114.50,487.70) rotate(-45)" font-size="9.0" text-anchor="end" fill="#231f20" font-weight="normal" textLength="18.50" lengthAdjust="spacingAndGlyphs"  stroke="#231f20" stroke-width="0.1">DAC</text><text transform="translate(134.60,487.70) rotate(-45)" font-size="9.0" text-anchor="end" fill="#231f20" font-weight="normal" textLength="52.50" lengthAdjust="spacingAndGlyphs"  stroke="#231f20" stroke-width="0.1">PTC209+DAC</text><text transform="translate(164.30,486.70) rotate(-45)" font-size="9.0" text-anchor="end" fill="#231f20" font-weight="normal" textLength="26.30" lengthAdjust="spacingAndGlyphs"  stroke="#231f20" stroke-width="0.1">DMSO</text><text transform="translate(182.90,487.60) rotate(-45)" font-size="9.0" text-anchor="end" fill="#231f20" font-weight="normal" textLength="31.50" lengthAdjust="spacingAndGlyphs"  stroke="#231f20" stroke-width="0.1">PTC209</text><text transform="translate(201.90,487.70) rotate(-45)" font-size="9.0" text-anchor="end" fill="#231f20" font-weight="normal" textLength="18.50" lengthAdjust="spacingAndGlyphs"  stroke="#231f20" stroke-width="0.1">DAC</text><text transform="translate(221.70,487.70) rotate(-45)" font-size="9.0" text-anchor="end" fill="#231f20" font-weight="normal" textLength="52.50" lengthAdjust="spacingAndGlyphs"  stroke="#231f20" stroke-width="0.1">PTC209+DAC</text><line x1="301.10" y1="354.10" x2="301.10" y2="477.50" stroke="#231f20" stroke-width="1.3" /><line x1="298.10" y1="476.90" x2="301.10" y2="476.90" stroke="#231f20" stroke-width="1.0" /><text x="295.00" y="479.80" font-size="8.2" text-anchor="end" fill="#231f20" font-weight="normal"  stroke="#231f20" stroke-width="0.1">0%</text><line x1="298.10" y1="453.00" x2="301.10" y2="453.00" stroke="#231f20" stroke-width="1.0" /><text x="295.00" y="455.90" font-size="8.2" text-anchor="end" fill="#231f20" font-weight="normal"  stroke="#231f20" stroke-width="0.1">20%</text><line x1="298.10" y1="429.10" x2="301.10" y2="429.10" stroke="#231f20" stroke-width="1.0" /><text x="295.00" y="432.00" font-size="8.2" text-anchor="end" fill="#231f20" font-weight="normal"  stroke="#231f20" stroke-width="0.1">40%</text><line x1="298.10" y1="405.20" x2="301.10" y2="405.20" stroke="#231f20" stroke-width="1.0" /><text x="295.00" y="408.10" font-size="8.2" text-anchor="end" fill="#231f20" font-weight="normal"  stroke="#231f20" stroke-width="0.1">60%</text><line x1="298.10" y1="381.30" x2="301.10" y2="381.30" stroke="#231f20" stroke-width="1.0" /><text x="295.00" y="384.20" font-size="8.2" text-anchor="end" fill="#231f20" font-weight="normal"  stroke="#231f20" stroke-width="0.1">80%</text><line x1="298.10" y1="357.40" x2="301.10" y2="357.40" stroke="#231f20" stroke-width="1.0" /><text x="295.00" y="360.30" font-size="8.2" text-anchor="end" fill="#231f20" font-weight="normal"  stroke="#231f20" stroke-width="0.1">100%</text><text transform="translate(267.40,415.20) rotate(-90)" font-size="8.7" text-anchor="middle" fill="#231f20" font-weight="normal" textLength="89.40" lengthAdjust="spacingAndGlyphs"  stroke="#231f20" stroke-width="0.1">Relative colony formation</text><line x1="300.50" y1="476.90" x2="481.20" y2="476.90" stroke="#231f20" stroke-width="1.2" /><rect x="305.80" y="357.40" width="7.60" height="119.50" fill="#f1c98b" /><rect x="318.60" y="385.72" width="7.40" height="91.18" fill="#8e9bc8" /><rect x="331.20" y="402.21" width="7.50" height="74.69" fill="#d98b84" /><rect x="352.00" y="411.17" width="7.50" height="65.73" fill="#f1c98b" /><rect x="364.60" y="441.77" width="7.40" height="35.13" fill="#8e9bc8" /><rect x="376.80" y="465.07" width="7.40" height="11.83" fill="#d98b84" /><rect x="397.80" y="435.07" width="7.40" height="41.82" fill="#f1c98b" /><rect x="410.30" y="459.57" width="7.40" height="17.33" fill="#8e9bc8" /><rect x="423.00" y="472.60" width="7.40" height="4.30" fill="#d98b84" /><rect x="444.00" y="451.57" width="7.30" height="25.33" fill="#f1c98b" /><rect x="456.50" y="468.53" width="7.40" height="8.37" fill="#8e9bc8" /><rect x="468.80" y="473.31" width="7.40" height="3.58" fill="#d98b84" /><line x1="322.30" y1="476.90" x2="322.30" y2="480.00" stroke="#231f20" stroke-width="1.0" /><line x1="368.10" y1="476.90" x2="368.10" y2="480.00" stroke="#231f20" stroke-width="1.0" /><line x1="414.20" y1="476.90" x2="414.20" y2="480.00" stroke="#231f20" stroke-width="1.0" /><line x1="459.90" y1="476.90" x2="459.90" y2="480.00" stroke="#231f20" stroke-width="1.0" /><circle cx="307.40" cy="357.50" r="1.8" fill="#e8921e" stroke="none" stroke-width="0.8"/><circle cx="309.60" cy="357.50" r="1.8" fill="#e8921e" stroke="none" stroke-width="0.8"/><circle cx="311.80" cy="357.50" r="1.8" fill="#e8921e" stroke="none" stroke-width="0.8"/><line x1="309.60" y1="357.50" x2="309.60" y2="357.50" stroke="#e8921e" stroke-width="1.0" /><line x1="322.30" y1="380.50" x2="322.30" y2="396.00" stroke="#1f3f86" stroke-width="1.1" /><line x1="320.05" y1="380.50" x2="324.55" y2="380.50" stroke="#1f3f86" stroke-width="1.1" /><line x1="320.05" y1="396.00" x2="324.55" y2="396.00" stroke="#1f3f86" stroke-width="1.1" /><rect x="320.40" y="373.30" width="3.60" height="3.60" fill="#1f3f86" /><rect x="318.70" y="382.20" width="3.60" height="3.60" fill="#1f3f86" /><rect x="322.70" y="379.40" width="3.60" height="3.60" fill="#1f3f86" /><rect x="320.40" y="398.70" width="3.60" height="3.60" fill="#1f3f86" /><line x1="335.00" y1="393.00" x2="335.00" y2="410.00" stroke="#b0103a" stroke-width="1.1" /><line x1="332.75" y1="393.00" x2="337.25" y2="393.00" stroke="#b0103a" stroke-width="1.1" /><line x1="332.75" y1="410.00" x2="337.25" y2="410.00" stroke="#b0103a" stroke-width="1.1" /><path d="M332.20,394.53L336.80,394.53L334.50,390.62Z" fill="#b0103a"/><path d="M334.70,399.93L339.30,399.93L337.00,396.01Z" fill="#b0103a"/><path d="M330.20,403.73L334.80,403.73L332.50,399.81Z" fill="#b0103a"/><path d="M332.20,415.23L336.80,415.23L334.50,411.31Z" fill="#b0103a"/><line x1="355.80" y1="402.00" x2="355.80" y2="417.00" stroke="#e8921e" stroke-width="1.1" /><line x1="353.55" y1="402.00" x2="358.05" y2="402.00" stroke="#e8921e" stroke-width="1.1" /><line x1="353.55" y1="417.00" x2="358.05" y2="417.00" stroke="#e8921e" stroke-width="1.1" /><circle cx="354.00" cy="405.00" r="1.8" fill="#e8921e" stroke="none" stroke-width="0.8"/><circle cx="357.50" cy="401.20" r="1.8" fill="#e8921e" stroke="none" stroke-width="0.8"/><circle cx="354.50" cy="417.40" r="1.8" fill="#e8921e" stroke="none" stroke-width="0.8"/><circle cx="357.00" cy="417.40" r="1.8" fill="#e8921e" stroke="none" stroke-width="0.8"/><line x1="368.10" y1="438.00" x2="368.10" y2="448.00" stroke="#1f3f86" stroke-width="1.1" /><line x1="365.85" y1="438.00" x2="370.35" y2="438.00" stroke="#1f3f86" stroke-width="1.1" /><line x1="365.85" y1="448.00" x2="370.35" y2="448.00" stroke="#1f3f86" stroke-width="1.1" /><rect x="366.30" y="434.80" width="3.60" height="3.60" fill="#1f3f86" /><rect x="364.20" y="441.30" width="3.60" height="3.60" fill="#1f3f86" /><rect x="368.00" y="441.20" width="3.60" height="3.60" fill="#1f3f86" /><rect x="366.20" y="446.40" width="3.60" height="3.60" fill="#1f3f86" /><line x1="380.50" y1="457.00" x2="380.50" y2="468.00" stroke="#b0103a" stroke-width="1.1" /><line x1="378.25" y1="457.00" x2="382.75" y2="457.00" stroke="#b0103a" stroke-width="1.1" /><line x1="378.25" y1="468.00" x2="382.75" y2="468.00" stroke="#b0103a" stroke-width="1.1" /><path d="M378.20,458.23L382.80,458.23L380.50,454.31Z" fill="#b0103a"/><path d="M375.70,463.23L380.30,463.23L378.00,459.31Z" fill="#b0103a"/><path d="M380.70,463.23L385.30,463.23L383.00,459.31Z" fill="#b0103a"/><path d="M377.70,467.73L382.30,467.73L380.00,463.81Z" fill="#b0103a"/><circle cx="400.00" cy="434.00" r="1.8" fill="#e8921e" stroke="none" stroke-width="0.8"/><circle cx="403.50" cy="435.50" r="1.8" fill="#e8921e" stroke="none" stroke-width="0.8"/><circle cx="401.50" cy="437.80" r="1.8" fill="#e8921e" stroke="none" stroke-width="0.8"/><circle cx="402.50" cy="435.00" r="1.8" fill="#e8921e" stroke="none" stroke-width="0.8"/><rect x="412.20" y="451.70" width="3.60" height="3.60" fill="#1f3f86" /><rect x="410.20" y="459.20" width="3.60" height="3.60" fill="#1f3f86" /><rect x="414.20" y="458.70" width="3.60" height="3.60" fill="#1f3f86" /><rect x="412.20" y="456.20" width="3.60" height="3.60" fill="#1f3f86" /><path d="M424.30,470.53L428.90,470.53L426.60,466.62Z" fill="#b0103a"/><path d="M422.70,473.33L427.30,473.33L425.00,469.42Z" fill="#b0103a"/><path d="M425.90,473.33L430.50,473.33L428.20,469.42Z" fill="#b0103a"/><path d="M424.30,472.73L428.90,472.73L426.60,468.81Z" fill="#b0103a"/><line x1="447.30" y1="447.00" x2="447.30" y2="457.00" stroke="#e8921e" stroke-width="1.1" /><line x1="445.05" y1="447.00" x2="449.55" y2="447.00" stroke="#e8921e" stroke-width="1.1" /><line x1="445.05" y1="457.00" x2="449.55" y2="457.00" stroke="#e8921e" stroke-width="1.1" /><circle cx="445.50" cy="447.30" r="1.8" fill="#e8921e" stroke="none" stroke-width="0.8"/><circle cx="449.00" cy="449.50" r="1.8" fill="#e8921e" stroke="none" stroke-width="0.8"/><circle cx="446.50" cy="453.00" r="1.8" fill="#e8921e" stroke="none" stroke-width="0.8"/><circle cx="447.30" cy="457.00" r="1.8" fill="#e8921e" stroke="none" stroke-width="0.8"/><rect x="456.20" y="463.20" width="3.60" height="3.60" fill="#1f3f86" /><rect x="459.70" y="465.20" width="3.60" height="3.60" fill="#1f3f86" /><rect x="457.20" y="468.20" width="3.60" height="3.60" fill="#1f3f86" /><rect x="458.70" y="469.70" width="3.60" height="3.60" fill="#1f3f86" /><path d="M470.20,472.03L474.80,472.03L472.50,468.12Z" fill="#b0103a"/><path d="M468.50,474.93L473.10,474.93L470.80,471.01Z" fill="#b0103a"/><path d="M471.90,474.93L476.50,474.93L474.20,471.01Z" fill="#b0103a"/><path d="M470.20,474.33L474.80,474.33L472.50,470.42Z" fill="#b0103a"/><text x="447.30" y="443.00" font-size="9.0" text-anchor="middle" fill="#e8921e" font-weight="normal"  stroke="#e8921e" stroke-width="0.1">*</text><text x="460.00" y="459.50" font-size="9.0" text-anchor="middle" fill="#1f3f86" font-weight="normal"  stroke="#1f3f86" stroke-width="0.1">**</text><text x="472.60" y="466.80" font-size="9.0" text-anchor="middle" fill="#b0103a" font-weight="normal"  stroke="#b0103a" stroke-width="0.1">***</text><circle cx="431.70" cy="364.60" r="1.9" fill="#e8921e" stroke="none" stroke-width="0.8"/><rect x="429.85" y="373.85" width="3.70" height="3.70" fill="#1f3f86" /><path d="M429.30,388.60L434.10,388.60L431.70,384.52Z" fill="#b0103a"/><text x="437.30" y="367.00" font-size="7.3" text-anchor="start" fill="#e8921e" font-weight="normal" textLength="26.20" lengthAdjust="spacingAndGlyphs"  stroke="#e8921e" stroke-width="0.1">1st SRP</text><text x="437.30" y="378.10" font-size="7.3" text-anchor="start" fill="#1f3f86" font-weight="normal" textLength="29.20" lengthAdjust="spacingAndGlyphs"  stroke="#1f3f86" stroke-width="0.1">2nd SRP</text><text x="437.30" y="389.10" font-size="7.3" text-anchor="start" fill="#b0103a" font-weight="normal" textLength="27.10" lengthAdjust="spacingAndGlyphs"  stroke="#b0103a" stroke-width="0.1">3rd SRP</text><text x="322.10" y="490.80" font-size="8.4" text-anchor="middle" fill="#231f20" font-weight="normal" textLength="25.10" lengthAdjust="spacingAndGlyphs"  stroke="#231f20" stroke-width="0.1">DMSO</text><text x="368.00" y="490.80" font-size="8.4" text-anchor="middle" fill="#231f20" font-weight="normal" textLength="29.40" lengthAdjust="spacingAndGlyphs"  stroke="#231f20" stroke-width="0.1">PTC209</text><text x="414.20" y="490.80" font-size="8.4" text-anchor="middle" fill="#231f20" font-weight="normal" textLength="17.30" lengthAdjust="spacingAndGlyphs"  stroke="#231f20" stroke-width="0.1">DAC</text><text x="460.00" y="490.80" font-size="8.4" text-anchor="middle" fill="#231f20" font-weight="normal" textLength="29.40" lengthAdjust="spacingAndGlyphs"  stroke="#231f20" stroke-width="0.1">PTC209</text><text x="459.00" y="501.80" font-size="8.4" text-anchor="middle" fill="#231f20" font-weight="normal" textLength="23.50" lengthAdjust="spacingAndGlyphs"  stroke="#231f20" stroke-width="0.1">+DAC</text><defs><clipPath id="cB"><ellipse cx="70.75" cy="624.4" rx="50.25" ry="57.1"/></clipPath><clipPath id="cR"><ellipse cx="112.1" cy="606.2" rx="42.1" ry="39.3"/></clipPath><clipPath id="cG"><ellipse cx="87.8" cy="646.3" rx="67.6" ry="56.2"/></clipPath></defs><ellipse cx="72.14" cy="625.36" rx="51.86" ry="57.6" transform="rotate(-2.54 72.14 625.36)" fill="#2e4a90" fill-opacity="0.5" stroke="#2e4a90" stroke-width="1.0"/><ellipse cx="112.26" cy="605.74" rx="43.18" ry="39.12" transform="rotate(-15.68 112.26 605.74)" fill="#b40a3c" fill-opacity="0.52" stroke="#b40a3c" stroke-width="1.0"/><ellipse cx="87.42" cy="645.97" rx="67.61" ry="55.45" transform="rotate(1.32 87.42 645.97)" fill="#69ad41" fill-opacity="0.5" stroke="#69ad41" stroke-width="1.0"/><text x="20.50" y="569.90" font-size="10" text-anchor="start" fill="#3d5b9d" font-weight="normal" textLength="35.30" lengthAdjust="spacingAndGlyphs"  stroke="#3d5b9d" stroke-width="0.1">PTC209</text><text x="130.80" y="570.00" font-size="10" text-anchor="start" fill="#c0214b" font-weight="normal" textLength="21.10" lengthAdjust="spacingAndGlyphs"  stroke="#c0214b" stroke-width="0.1">DAC</text><text x="87.75" y="713.30" font-size="10" text-anchor="middle" fill="#6db44a" font-weight="normal" textLength="63.30" lengthAdjust="spacingAndGlyphs"  stroke="#6db44a" stroke-width="0.1">DAC+PTC209</text><text x="55.80" y="582.90" font-size="6.8" text-anchor="middle" fill="#231f20" font-weight="normal" textLength="11.20" lengthAdjust="spacingAndGlyphs"  stroke="#231f20" stroke-width="0.1">104</text><text x="55.80" y="590.60" font-size="6.8" text-anchor="middle" fill="#231f20" font-weight="normal" textLength="18.80" lengthAdjust="spacingAndGlyphs"  stroke="#231f20" stroke-width="0.1">(3.6%)</text><text x="93.10" y="581.00" font-size="6.8" text-anchor="middle" fill="#231f20" font-weight="normal" textLength="7.50" lengthAdjust="spacingAndGlyphs"  stroke="#231f20" stroke-width="0.1">21</text><text x="93.10" y="588.70" font-size="6.8" text-anchor="middle" fill="#231f20" font-weight="normal" textLength="18.80" lengthAdjust="spacingAndGlyphs"  stroke="#231f20" stroke-width="0.1">(0.7%)</text><text x="134.60" y="586.70" font-size="6.8" text-anchor="middle" fill="#231f20" font-weight="normal" textLength="11.20" lengthAdjust="spacingAndGlyphs"  stroke="#231f20" stroke-width="0.1">212</text><text x="134.60" y="594.40" font-size="6.8" text-anchor="middle" fill="#231f20" font-weight="normal" textLength="18.80" lengthAdjust="spacingAndGlyphs"  stroke="#231f20" stroke-width="0.1">(7.4%)</text><text x="97.30" y="611.90" font-size="6.8" text-anchor="middle" fill="#231f20" font-weight="normal" textLength="11.20" lengthAdjust="spacingAndGlyphs"  stroke="#231f20" stroke-width="0.1">204</text><text x="97.30" y="619.60" font-size="6.8" text-anchor="middle" fill="#231f20" font-weight="normal" textLength="18.80" lengthAdjust="spacingAndGlyphs"  stroke="#231f20" stroke-width="0.1">(7.1%)</text><text x="134.00" y="620.60" font-size="6.8" text-anchor="middle" fill="#231f20" font-weight="normal" textLength="11.20" lengthAdjust="spacingAndGlyphs"  stroke="#231f20" stroke-width="0.1">126</text><text x="134.00" y="628.30" font-size="6.8" text-anchor="middle" fill="#231f20" font-weight="normal" textLength="18.80" lengthAdjust="spacingAndGlyphs"  stroke="#231f20" stroke-width="0.1">(4.4%)</text><text x="53.50" y="631.60" font-size="6.8" text-anchor="middle" fill="#231f20" font-weight="normal" textLength="14.90" lengthAdjust="spacingAndGlyphs"  stroke="#231f20" stroke-width="0.1">1136</text><text x="53.50" y="639.30" font-size="6.8" text-anchor="middle" fill="#231f20" font-weight="normal" textLength="22.80" lengthAdjust="spacingAndGlyphs"  stroke="#231f20" stroke-width="0.1">(39.7%)</text><text x="122.60" y="674.70" font-size="6.8" text-anchor="middle" fill="#231f20" font-weight="normal" textLength="14.90" lengthAdjust="spacingAndGlyphs"  stroke="#231f20" stroke-width="0.1">1055</text><text x="122.60" y="682.40" font-size="6.8" text-anchor="middle" fill="#231f20" font-weight="normal" textLength="22.50" lengthAdjust="spacingAndGlyphs"  stroke="#231f20" stroke-width="0.1">(36.9%)</text><line x1="291.40" y1="553.10" x2="291.40" y2="687.40" stroke="#231f20" stroke-width="1.2" /><line x1="290.80" y1="687.10" x2="510.70" y2="687.10" stroke="#231f20" stroke-width="1.2" /><line x1="288.40" y1="556.50" x2="291.40" y2="556.50" stroke="#231f20" stroke-width="1.0" /><line x1="288.40" y1="571.05" x2="291.40" y2="571.05" stroke="#231f20" stroke-width="1.0" /><line x1="288.40" y1="585.60" x2="291.40" y2="585.60" stroke="#231f20" stroke-width="1.0" /><line x1="288.40" y1="600.15" x2="291.40" y2="600.15" stroke="#231f20" stroke-width="1.0" /><line x1="288.40" y1="614.70" x2="291.40" y2="614.70" stroke="#231f20" stroke-width="1.0" /><line x1="288.40" y1="629.25" x2="291.40" y2="629.25" stroke="#231f20" stroke-width="1.0" /><line x1="288.40" y1="643.80" x2="291.40" y2="643.80" stroke="#231f20" stroke-width="1.0" /><line x1="288.40" y1="658.35" x2="291.40" y2="658.35" stroke="#231f20" stroke-width="1.0" /><line x1="288.40" y1="672.90" x2="291.40" y2="672.90" stroke="#231f20" stroke-width="1.0" /><line x1="291.50" y1="687.10" x2="291.50" y2="690.30" stroke="#231f20" stroke-width="1.0" /><text x="291.50" y="701.20" font-size="8.3" text-anchor="middle" fill="#231f20" font-weight="normal"  stroke="#231f20" stroke-width="0.12">0</text><line x1="322.40" y1="687.10" x2="322.40" y2="690.30" stroke="#231f20" stroke-width="1.0" /><text x="322.40" y="701.20" font-size="8.3" text-anchor="middle" fill="#231f20" font-weight="normal"  stroke="#231f20" stroke-width="0.12">5</text><line x1="353.30" y1="687.10" x2="353.30" y2="690.30" stroke="#231f20" stroke-width="1.0" /><text x="353.30" y="701.20" font-size="8.3" text-anchor="middle" fill="#231f20" font-weight="normal"  stroke="#231f20" stroke-width="0.12">10</text><line x1="384.20" y1="687.10" x2="384.20" y2="690.30" stroke="#231f20" stroke-width="1.0" /><text x="384.20" y="701.20" font-size="8.3" text-anchor="middle" fill="#231f20" font-weight="normal"  stroke="#231f20" stroke-width="0.12">15</text><line x1="415.10" y1="687.10" x2="415.10" y2="690.30" stroke="#231f20" stroke-width="1.0" /><text x="415.10" y="701.20" font-size="8.3" text-anchor="middle" fill="#231f20" font-weight="normal"  stroke="#231f20" stroke-width="0.12">20</text><line x1="446.00" y1="687.10" x2="446.00" y2="690.30" stroke="#231f20" stroke-width="1.0" /><text x="446.00" y="701.20" font-size="8.3" text-anchor="middle" fill="#231f20" font-weight="normal"  stroke="#231f20" stroke-width="0.12">25</text><line x1="476.90" y1="687.10" x2="476.90" y2="690.30" stroke="#231f20" stroke-width="1.0" /><text x="476.90" y="701.20" font-size="8.3" text-anchor="middle" fill="#231f20" font-weight="normal"  stroke="#231f20" stroke-width="0.12">30</text><line x1="507.80" y1="687.10" x2="507.80" y2="690.30" stroke="#231f20" stroke-width="1.0" /><text x="507.80" y="701.20" font-size="8.3" text-anchor="middle" fill="#231f20" font-weight="normal"  stroke="#231f20" stroke-width="0.12">35</text><text x="284.90" y="565.90" font-size="7.9" text-anchor="end" fill="#231f20" font-weight="normal" textLength="88.40" lengthAdjust="spacingAndGlyphs"  stroke="#231f20" stroke-width="0.18">programmed cell death</text><rect x="291.50" y="559.10" width="42.02" height="2.90" fill="#1f3a7c" /><rect x="291.50" y="562.00" width="22.25" height="3.00" fill="#a8001f" /><rect x="291.50" y="565.10" width="66.74" height="2.80" fill="#5eaa34" /><text x="284.90" y="580.45" font-size="7.9" text-anchor="end" fill="#231f20" font-weight="normal" textLength="60.60" lengthAdjust="spacingAndGlyphs"  stroke="#231f20" stroke-width="0.18">DNA replication</text><rect x="291.50" y="573.65" width="77.25" height="2.90" fill="#1f3a7c" /><rect x="291.50" y="579.65" width="68.60" height="2.80" fill="#5eaa34" /><text x="284.90" y="595.00" font-size="7.9" text-anchor="end" fill="#231f20" font-weight="normal" textLength="62.90" lengthAdjust="spacingAndGlyphs"  stroke="#231f20" stroke-width="0.18">mitotic cell cycle</text><rect x="291.50" y="588.20" width="42.02" height="2.90" fill="#1f3a7c" /><rect x="291.50" y="594.20" width="97.64" height="2.80" fill="#5eaa34" /><text x="284.90" y="609.55" font-size="7.9" text-anchor="end" fill="#231f20" font-weight="normal" textLength="68.20" lengthAdjust="spacingAndGlyphs"  stroke="#231f20" stroke-width="0.18">response to stress</text><rect x="291.50" y="602.75" width="120.51" height="2.90" fill="#1f3a7c" /><rect x="291.50" y="605.65" width="116.18" height="3.00" fill="#a8001f" /><rect x="291.50" y="608.75" width="145.23" height="2.80" fill="#5eaa34" /><text x="284.90" y="624.10" font-size="7.9" text-anchor="end" fill="#231f20" font-weight="normal" textLength="94.00" lengthAdjust="spacingAndGlyphs"  stroke="#231f20" stroke-width="0.18">immune sysytem process</text><rect x="291.50" y="617.30" width="76.01" height="2.90" fill="#1f3a7c" /><rect x="291.50" y="620.20" width="207.03" height="3.00" fill="#a8001f" /><rect x="291.50" y="623.30" width="118.04" height="2.80" fill="#5eaa34" /><text x="284.90" y="638.65" font-size="7.9" text-anchor="end" fill="#231f20" font-weight="normal" textLength="78.70" lengthAdjust="spacingAndGlyphs"  stroke="#231f20" stroke-width="0.18">response to cytokine</text><rect x="291.50" y="631.85" width="18.54" height="2.90" fill="#1f3a7c" /><rect x="291.50" y="634.75" width="143.99" height="3.00" fill="#a8001f" /><rect x="291.50" y="637.85" width="48.82" height="2.80" fill="#5eaa34" /><text x="284.90" y="653.20" font-size="7.9" text-anchor="end" fill="#231f20" font-weight="normal" textLength="86.10" lengthAdjust="spacingAndGlyphs"  stroke="#231f20" stroke-width="0.18">inflammatory response</text><rect x="291.50" y="646.40" width="6.80" height="2.90" fill="#1f3a7c" /><rect x="291.50" y="649.30" width="106.30" height="3.00" fill="#a8001f" /><rect x="291.50" y="652.40" width="6.80" height="2.80" fill="#5eaa34" /><text x="284.90" y="667.75" font-size="7.9" text-anchor="end" fill="#231f20" font-weight="normal" textLength="81.90" lengthAdjust="spacingAndGlyphs"  stroke="#231f20" stroke-width="0.18">leukocyte chemotaxis</text><rect x="291.50" y="660.95" width="4.94" height="2.90" fill="#1f3a7c" /><rect x="291.50" y="663.85" width="61.18" height="3.00" fill="#a8001f" /><rect x="291.50" y="666.95" width="4.94" height="2.80" fill="#5eaa34" /><text x="284.90" y="682.30" font-size="7.9" text-anchor="end" fill="#231f20" font-weight="normal" textLength="91.90" lengthAdjust="spacingAndGlyphs"  stroke="#231f20" stroke-width="0.18">leukocyte differentiation</text><rect x="291.50" y="678.40" width="58.09" height="3.00" fill="#a8001f" /><text x="401.10" y="547.30" font-size="10.2" text-anchor="middle" fill="#231f20" font-weight="normal" textLength="116.70" lengthAdjust="spacingAndGlyphs"  stroke="#231f20" stroke-width="0.3">Major enriched GO terms</text><rect x="447.90" y="645.50" width="3.20" height="3.70" fill="#1f3a7c" /><rect x="447.90" y="656.30" width="3.20" height="3.70" fill="#a8001f" /><rect x="447.90" y="666.60" width="3.20" height="3.70" fill="#5eaa34" /><text x="455.80" y="650.50" font-size="7.9" text-anchor="start" fill="#231f20" font-weight="normal" textLength="44.40" lengthAdjust="spacingAndGlyphs"  stroke="#231f20" stroke-width="0.28">PTC209 only</text><text x="455.80" y="660.90" font-size="7.9" text-anchor="start" fill="#231f20" font-weight="normal" textLength="32.90" lengthAdjust="spacingAndGlyphs"  stroke="#231f20" stroke-width="0.28">DAC only</text><text x="455.80" y="671.00" font-size="7.9" text-anchor="start" fill="#231f20" font-weight="normal" textLength="48.70" lengthAdjust="spacingAndGlyphs"  stroke="#231f20" stroke-width="0.28">DAC+PTC209</text><text x="380.60" y="714.00" font-size="7.0" text-anchor="start" fill="#231f20" font-weight="normal" textLength="2.20" lengthAdjust="spacingAndGlyphs"  stroke="#231f20" stroke-width="0.1">-</text><text x="382.70" y="715.00" font-size="8.6" text-anchor="start" fill="#231f20" font-weight="normal" textLength="11.50" lengthAdjust="spacingAndGlyphs"  stroke="#231f20" stroke-width="0.15">Log</text><text x="394.40" y="717.60" font-size="6.6" text-anchor="start" fill="#231f20" font-weight="normal" textLength="8.00" lengthAdjust="spacingAndGlyphs"  stroke="#231f20" stroke-width="0.12">10</text><text x="403.20" y="715.00" font-size="8.6" text-anchor="start" fill="#231f20" font-weight="normal" textLength="18.70" lengthAdjust="spacingAndGlyphs"  stroke="#231f20" stroke-width="0.15">(FDR)</text><text x="7.80" y="17.60" font-size="12" text-anchor="start" fill="#000" font-weight="bold"  stroke="#000" stroke-width="0.5">A</text><text x="247.90" y="17.80" font-size="12" text-anchor="start" fill="#000" font-weight="bold"  stroke="#000" stroke-width="0.5">B</text><text x="8.20" y="191.60" font-size="12" text-anchor="start" fill="#000" font-weight="bold" textLength="7.80" lengthAdjust="spacingAndGlyphs"  stroke="#000" stroke-width="0.5">C</text><text x="246.90" y="191.80" font-size="12" text-anchor="start" fill="#000" font-weight="bold"  stroke="#000" stroke-width="0.5">D</text><text x="8.40" y="355.00" font-size="12" text-anchor="start" fill="#000" font-weight="bold" textLength="6.70" lengthAdjust="spacingAndGlyphs"  stroke="#000" stroke-width="0.5">E</text><text x="248.20" y="355.00" font-size="12" text-anchor="start" fill="#000" font-weight="bold" textLength="6.45" lengthAdjust="spacingAndGlyphs"  stroke="#000" stroke-width="0.5">F</text><text x="7.20" y="550.50" font-size="12" text-anchor="start" fill="#000" font-weight="bold"  stroke="#000" stroke-width="0.5">G</text><text x="178.70" y="550.80" font-size="12" text-anchor="start" fill="#000" font-weight="bold"  stroke="#000" stroke-width="0.5">H</text>
<rect x="0.5" y="0.5" width="518.6" height="725.6" fill="none" stroke="#000" stroke-width="1"/>
<line x1="519.4" y1="0" x2="519.4" y2="727" stroke="#000" stroke-width="1.3"/>
<line x1="0" y1="726.2" x2="520" y2="726.2" stroke="#000" stroke-width="1.6"/>
</svg></body></html>
